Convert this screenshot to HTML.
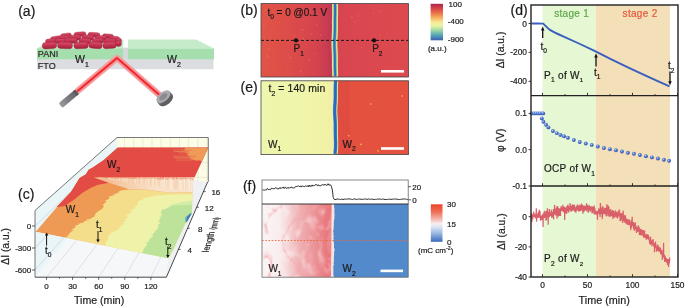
<!DOCTYPE html>
<html><head><meta charset="utf-8"><style>
html,body{margin:0;padding:0;background:#fff;}
body{width:685px;height:307px;overflow:hidden;}
svg{display:block;font-family:"Liberation Sans",sans-serif;will-change:transform;filter:blur(0.3px);}
</style></head><body>
<svg width="685" height="307" viewBox="0 0 685 307">
<defs>
<linearGradient id="cbB" x1="0" y1="0" x2="0" y2="1">
<stop offset="0" stop-color="#aa254c"/><stop offset="0.1" stop-color="#d03c48"/>
<stop offset="0.25" stop-color="#ec7048"/><stop offset="0.38" stop-color="#f6b062"/>
<stop offset="0.5" stop-color="#f8e894"/><stop offset="0.6" stop-color="#e8f4a4"/>
<stop offset="0.72" stop-color="#a6d9a4"/><stop offset="0.85" stop-color="#56aab4"/>
<stop offset="1" stop-color="#3b5eb0"/></linearGradient>
<linearGradient id="cbF" x1="0" y1="0" x2="0" y2="1">
<stop offset="0" stop-color="#ea4428"/><stop offset="0.2" stop-color="#ee6e55"/>
<stop offset="0.4" stop-color="#f3b8b0"/><stop offset="0.52" stop-color="#f8f0f0"/>
<stop offset="0.62" stop-color="#d6e2f2"/><stop offset="0.8" stop-color="#8fb0de"/>
<stop offset="1" stop-color="#3a68ba"/></linearGradient>
<linearGradient id="fW1" x1="0" y1="0" x2="1" y2="0">
<stop offset="0" stop-color="#fbf5f6"/><stop offset="0.25" stop-color="#f9eced"/>
<stop offset="0.36" stop-color="#f5d6d8"/><stop offset="0.5" stop-color="#f0b3b6"/>
<stop offset="0.7" stop-color="#ec999d"/><stop offset="0.9" stop-color="#e8797e"/><stop offset="0.97" stop-color="#e9777c"/><stop offset="1" stop-color="#f0b0b2"/></linearGradient>
<radialGradient id="ball" cx="0.38" cy="0.35" r="0.7">
<stop offset="0" stop-color="#cfe0ff"/><stop offset="0.35" stop-color="#5b82d6"/><stop offset="1" stop-color="#2a4aa6"/></radialGradient>
<linearGradient id="rod" x1="0" y1="0" x2="0" y2="1">
<stop offset="0" stop-color="#d9506c"/><stop offset="0.5" stop-color="#c3324f"/><stop offset="1" stop-color="#9e2240"/></linearGradient>
<filter id="glow" x="-20%" y="-20%" width="140%" height="140%"><feGaussianBlur stdDeviation="1.6"/></filter>
<filter id="glow2" x="-20%" y="-20%" width="140%" height="140%"><feGaussianBlur stdDeviation="0.7"/></filter>
<linearGradient id="laser" x1="0" y1="0" x2="1" y2="0">
<stop offset="0" stop-color="#9a9a9f"/><stop offset="0.45" stop-color="#7d7d82"/><stop offset="1" stop-color="#606065"/></linearGradient>
</defs>
<text x="18.2" y="16.2" font-size="14" fill="#1a1a1a" stroke="#1a1a1a" stroke-width="0.2" text-anchor="start" >(a)</text>
<polygon points="37.0,59.1 213.5,59.1 213.5,69.2 37.0,69.2" fill="#dcdde1" />
<polygon points="123.0,47.6 128.0,47.6 128.0,59.0 123.0,59.0" fill="#d6d7db" />
<polygon points="55.0,39.5 123.5,39.5 123.0,48.3 37.0,48.3" fill="#c2eac6" />
<polygon points="37.0,48.3 123.0,48.3 123.0,59.2 37.0,59.2" fill="#a4dfad" />
<polygon points="128.0,39.4 196.0,39.4 214.0,48.6 128.0,48.6" fill="#c6ebca" />
<polygon points="128.0,48.6 214.0,48.6 214.0,59.2 128.0,59.2" fill="#a5dfae" />
<rect x="74.0" y="32.0" width="12.0" height="4.6" rx="2.3" fill="url(#rod)" stroke="#9c1f3c" stroke-width="0.35" transform="rotate(-4 80 34.3)"/>
<rect x="88.0" y="32.5" width="12.0" height="4.6" rx="2.3" fill="url(#rod)" stroke="#9c1f3c" stroke-width="0.35" transform="rotate(3 94 34.8)"/>
<rect x="60.5" y="33.3" width="11.0" height="4.6" rx="2.3" fill="url(#rod)" stroke="#9c1f3c" stroke-width="0.35" transform="rotate(-6 66 35.6)"/>
<rect x="102.5" y="34.0" width="11.0" height="4.4" rx="2.2" fill="url(#rod)" stroke="#9c1f3c" stroke-width="0.35" transform="rotate(4 108 36.2)"/>
<rect x="50.5" y="36.2" width="11.0" height="4.8" rx="2.4" fill="url(#rod)" stroke="#9c1f3c" stroke-width="0.35" transform="rotate(-8 56 38.6)"/>
<rect x="59.0" y="35.7" width="12.0" height="5.0" rx="2.5" fill="url(#rod)" stroke="#9c1f3c" stroke-width="0.35" transform="rotate(2 65 38.2)"/>
<rect x="69.0" y="35.1" width="12.0" height="5.0" rx="2.5" fill="url(#rod)" stroke="#9c1f3c" stroke-width="0.35" transform="rotate(-3 75 37.6)"/>
<rect x="82.0" y="35.1" width="12.0" height="5.0" rx="2.5" fill="url(#rod)" stroke="#9c1f3c" stroke-width="0.35" transform="rotate(4 88 37.6)"/>
<rect x="95.0" y="35.7" width="12.0" height="5.0" rx="2.5" fill="url(#rod)" stroke="#9c1f3c" stroke-width="0.35" transform="rotate(-2 101 38.2)"/>
<rect x="108.5" y="36.3" width="11.0" height="5.0" rx="2.5" fill="url(#rod)" stroke="#9c1f3c" stroke-width="0.35" transform="rotate(5 114 38.8)"/>
<rect x="45.5" y="38.8" width="11.0" height="5.2" rx="2.6" fill="url(#rod)" stroke="#9c1f3c" stroke-width="0.35" transform="rotate(-5 51 41.4)"/>
<rect x="55.0" y="38.6" width="12.0" height="5.2" rx="2.6" fill="url(#rod)" stroke="#9c1f3c" stroke-width="0.35" transform="rotate(3 61 41.2)"/>
<rect x="64.5" y="38.2" width="13.0" height="5.2" rx="2.6" fill="url(#rod)" stroke="#9c1f3c" stroke-width="0.35" transform="rotate(-2 71 40.8)"/>
<rect x="79.0" y="38.4" width="12.0" height="5.2" rx="2.6" fill="url(#rod)" stroke="#9c1f3c" stroke-width="0.35" transform="rotate(5 85 41)"/>
<rect x="92.0" y="38.4" width="12.0" height="5.2" rx="2.6" fill="url(#rod)" stroke="#9c1f3c" stroke-width="0.35" transform="rotate(-4 98 41)"/>
<rect x="104.0" y="39.0" width="12.0" height="5.2" rx="2.6" fill="url(#rod)" stroke="#9c1f3c" stroke-width="0.35" transform="rotate(2 110 41.6)"/>
<rect x="115.5" y="38.0" width="6.0" height="5.0" rx="2.5" fill="url(#rod)" stroke="#9c1f3c" stroke-width="0.35" transform="rotate(0 118.5 40.5)"/>
<rect x="42.2" y="42.3" width="14.5" height="6.4" rx="3.2" fill="url(#rod)" stroke="#9c1f3c" stroke-width="0.35" transform="rotate(-3 49.5 45.5)"/>
<rect x="57.5" y="42.2" width="15.0" height="6.4" rx="3.2" fill="url(#rod)" stroke="#9c1f3c" stroke-width="0.35" transform="rotate(2 65 45.4)"/>
<rect x="73.8" y="42.2" width="14.5" height="6.4" rx="3.2" fill="url(#rod)" stroke="#9c1f3c" stroke-width="0.35" transform="rotate(-2 81 45.4)"/>
<rect x="88.8" y="42.0" width="13.5" height="6.4" rx="3.2" fill="url(#rod)" stroke="#9c1f3c" stroke-width="0.35" transform="rotate(4 95.5 45.2)"/>
<rect x="102.8" y="42.1" width="13.5" height="6.4" rx="3.2" fill="url(#rod)" stroke="#9c1f3c" stroke-width="0.35" transform="rotate(-3 109.5 45.3)"/>
<rect x="115.5" y="40.5" width="6.0" height="6.0" rx="3.0" fill="url(#rod)" stroke="#9c1f3c" stroke-width="0.35" transform="rotate(0 118.5 43.5)"/>
<text x="37.8" y="56.8" font-size="9" fill="#2a2a2a" stroke="#2a2a2a" stroke-width="0.2" text-anchor="start" >PANI</text>
<text x="37.8" y="68.6" font-size="9" fill="#2a2a2a" stroke="#2a2a2a" stroke-width="0.2" text-anchor="start" >FTO</text>
<text x="75" y="62.7" font-size="10.5" fill="#1a1a1a" stroke="#1a1a1a" stroke-width="0.2" text-anchor="start">W<tspan font-size="6.93" dy="3.99">1</tspan><tspan dy="-3.99"></tspan></text>
<text x="167" y="62.9" font-size="10.5" fill="#1a1a1a" stroke="#1a1a1a" stroke-width="0.2" text-anchor="start">W<tspan font-size="6.93" dy="3.99">2</tspan><tspan dy="-3.99"></tspan></text>
<g filter="url(#glow2)">
<polyline points="77.0,91.5 117.0,58.0 160.0,95.5" fill="none" stroke="#f4a0a4" stroke-width="6.4" stroke-linejoin="round"/>
</g>
<polyline points="77.0,91.5 117.0,58.0 160.0,95.5" fill="none" stroke="#f0676c" stroke-width="3.2" stroke-linejoin="round" opacity="0.75"/>
<polyline points="77.0,91.5 117.0,58.0 160.0,95.5" fill="none" stroke="#f41a1a" stroke-width="1.5" stroke-linejoin="round"/>
<g transform="translate(69,98.5) rotate(-40)">
<rect x="-11" y="-3" width="21" height="6" rx="1.5" fill="url(#laser)"/>
<rect x="8" y="-3" width="2.5" height="6" fill="#555"/>
</g>
<g transform="translate(164,97.5) rotate(-40)">
<ellipse cx="0" cy="3.2" rx="8.3" ry="4.6" fill="#5e5e63"/>
<rect x="-8.3" y="-1" width="16.6" height="4.2" fill="#6e6e73"/>
<ellipse cx="0" cy="-1" rx="8.3" ry="4.6" fill="#a9a9ae"/>
<ellipse cx="0" cy="-1" rx="4.6" ry="2.5" fill="#8a8a90"/>
</g>
<text x="240.5" y="15.0" font-size="14" fill="#1a1a1a" stroke="#1a1a1a" stroke-width="0.2" text-anchor="start" >(b)</text>
<linearGradient id="bL" x1="261" y1="0" x2="334" y2="0" gradientUnits="userSpaceOnUse">
<stop offset="0" stop-color="#e15446"/><stop offset="0.45" stop-color="#dc4b4a"/><stop offset="0.75" stop-color="#d5444e"/>
<stop offset="0.9" stop-color="#c93c52"/><stop offset="1" stop-color="#b93454"/></linearGradient>
<linearGradient id="bR" x1="336" y1="0" x2="409" y2="0" gradientUnits="userSpaceOnUse">
<stop offset="0" stop-color="#d6424f"/><stop offset="0.15" stop-color="#da4650"/><stop offset="1" stop-color="#dc4a4e"/></linearGradient>
<rect x="261" y="3.6" width="74" height="73.4" fill="url(#bL)"/>
<rect x="335" y="3.6" width="73.5" height="73.4" fill="url(#bR)"/>
<circle cx="358.3" cy="15.8" r="0.4" fill="#ee8a5a" opacity="0.6"/>
<circle cx="316.6" cy="24.9" r="0.7" fill="#ee8a5a" opacity="0.6"/>
<circle cx="361.8" cy="47.5" r="0.6" fill="#ee8a5a" opacity="0.6"/>
<circle cx="357.6" cy="16.0" r="0.6" fill="#ee8a5a" opacity="0.6"/>
<circle cx="286.2" cy="68.5" r="0.4" fill="#ee8a5a" opacity="0.6"/>
<circle cx="380.1" cy="11.1" r="0.7" fill="#ee8a5a" opacity="0.6"/>
<circle cx="311.2" cy="33.9" r="0.7" fill="#ee8a5a" opacity="0.6"/>
<circle cx="265.7" cy="10.2" r="0.8" fill="#ee8a5a" opacity="0.6"/>
<circle cx="404.2" cy="71.3" r="0.4" fill="#ee8a5a" opacity="0.6"/>
<circle cx="323.5" cy="15.3" r="0.5" fill="#ee8a5a" opacity="0.6"/>
<circle cx="351.9" cy="17.3" r="0.7" fill="#ee8a5a" opacity="0.6"/>
<circle cx="270.3" cy="17.8" r="0.7" fill="#ee8a5a" opacity="0.6"/>
<circle cx="320.3" cy="34.9" r="0.6" fill="#ee8a5a" opacity="0.6"/>
<circle cx="267.4" cy="56.1" r="0.8" fill="#ee8a5a" opacity="0.6"/>
<circle cx="402.6" cy="51.8" r="0.5" fill="#ee8a5a" opacity="0.6"/>
<circle cx="314.9" cy="53.6" r="0.7" fill="#ee8a5a" opacity="0.6"/>
<circle cx="279.3" cy="22.2" r="0.5" fill="#ee8a5a" opacity="0.6"/>
<circle cx="380.6" cy="35.7" r="0.6" fill="#ee8a5a" opacity="0.6"/>
<circle cx="294.8" cy="35.5" r="0.6" fill="#ee8a5a" opacity="0.6"/>
<circle cx="373.4" cy="13.1" r="0.6" fill="#ee8a5a" opacity="0.6"/>
<circle cx="288.5" cy="54.0" r="0.4" fill="#ee8a5a" opacity="0.6"/>
<circle cx="302.5" cy="29.7" r="0.7" fill="#ee8a5a" opacity="0.6"/>
<circle cx="270.4" cy="37.7" r="0.5" fill="#ee8a5a" opacity="0.6"/>
<circle cx="303.3" cy="38.9" r="0.8" fill="#ee8a5a" opacity="0.6"/>
<circle cx="287.0" cy="69.8" r="0.5" fill="#ee8a5a" opacity="0.6"/>
<circle cx="290.1" cy="57.6" r="0.8" fill="#ee8a5a" opacity="0.6"/>
<circle cx="264.0" cy="24.5" r="0.7" fill="#ee8a5a" opacity="0.6"/>
<circle cx="311.9" cy="22.7" r="0.4" fill="#ee8a5a" opacity="0.6"/>
<circle cx="268.7" cy="48.7" r="0.8" fill="#ee8a5a" opacity="0.6"/>
<circle cx="405.8" cy="40.7" r="0.4" fill="#ee8a5a" opacity="0.6"/>
<circle cx="309.1" cy="60.3" r="0.7" fill="#ee8a5a" opacity="0.6"/>
<circle cx="354.4" cy="21.8" r="0.6" fill="#ee8a5a" opacity="0.6"/>
<circle cx="300.6" cy="71.3" r="0.8" fill="#ee8a5a" opacity="0.6"/>
<polygon points="331.9,3.6 332.0,4.6 332.0,5.6 332.1,6.6 332.1,7.6 332.1,8.6 332.1,9.6 332.1,10.6 332.1,11.6 332.1,12.6 332.1,13.6 332.1,14.6 332.0,15.6 332.0,16.6 332.0,17.6 332.0,18.6 332.0,19.6 331.9,20.6 331.9,21.6 331.9,22.6 331.9,23.6 331.9,24.6 332.0,25.6 332.0,26.6 331.9,27.6 331.9,28.6 331.9,29.6 331.9,30.6 331.9,31.6 331.8,32.6 331.8,33.6 331.7,34.6 331.7,35.6 331.6,36.6 331.6,37.6 331.5,38.6 331.5,39.6 331.4,40.6 331.4,41.6 331.4,42.6 331.4,43.6 331.4,44.6 331.4,45.6 331.4,46.6 331.5,47.6 331.5,48.6 331.6,49.6 331.6,50.6 331.7,51.6 331.7,52.6 331.8,53.6 331.8,54.6 331.8,55.6 331.8,56.6 331.9,57.6 331.9,58.6 331.9,59.6 331.9,60.6 331.9,61.6 331.9,62.6 331.9,63.6 331.9,64.6 331.9,65.6 331.9,66.6 331.9,67.6 332.0,68.6 332.0,69.6 332.1,70.6 332.1,71.6 332.1,72.6 332.2,73.6 332.2,74.6 332.2,75.6 332.2,76.6 338.2,76.6 338.2,75.6 338.2,74.6 338.2,73.6 338.1,72.6 338.1,71.6 338.1,70.6 338.0,69.6 338.0,68.6 337.9,67.6 337.9,66.6 337.9,65.6 337.9,64.6 337.9,63.6 337.9,62.6 337.9,61.6 337.9,60.6 337.9,59.6 337.9,58.6 337.9,57.6 337.8,56.6 337.8,55.6 337.8,54.6 337.8,53.6 337.7,52.6 337.7,51.6 337.6,50.6 337.6,49.6 337.5,48.6 337.5,47.6 337.4,46.6 337.4,45.6 337.4,44.6 337.4,43.6 337.4,42.6 337.4,41.6 337.4,40.6 337.5,39.6 337.5,38.6 337.6,37.6 337.6,36.6 337.7,35.6 337.7,34.6 337.8,33.6 337.8,32.6 337.9,31.6 337.9,30.6 337.9,29.6 337.9,28.6 337.9,27.6 338.0,26.6 338.0,25.6 337.9,24.6 337.9,23.6 337.9,22.6 337.9,21.6 337.9,20.6 338.0,19.6 338.0,18.6 338.0,17.6 338.0,16.6 338.0,15.6 338.1,14.6 338.1,13.6 338.1,12.6 338.1,11.6 338.1,10.6 338.1,9.6 338.1,8.6 338.1,7.6 338.1,6.6 338.0,5.6 338.0,4.6 337.9,3.6" fill="#f3c870" />
<polygon points="332.3,3.6 332.4,4.6 332.4,5.6 332.5,6.6 332.5,7.6 332.5,8.6 332.5,9.6 332.5,10.6 332.5,11.6 332.5,12.6 332.5,13.6 332.5,14.6 332.4,15.6 332.4,16.6 332.4,17.6 332.4,18.6 332.4,19.6 332.3,20.6 332.3,21.6 332.3,22.6 332.3,23.6 332.3,24.6 332.4,25.6 332.4,26.6 332.3,27.6 332.3,28.6 332.3,29.6 332.3,30.6 332.3,31.6 332.2,32.6 332.2,33.6 332.1,34.6 332.1,35.6 332.0,36.6 332.0,37.6 331.9,38.6 331.9,39.6 331.8,40.6 331.8,41.6 331.8,42.6 331.8,43.6 331.8,44.6 331.8,45.6 331.8,46.6 331.9,47.6 331.9,48.6 332.0,49.6 332.0,50.6 332.1,51.6 332.1,52.6 332.2,53.6 332.2,54.6 332.2,55.6 332.2,56.6 332.3,57.6 332.3,58.6 332.3,59.6 332.3,60.6 332.3,61.6 332.3,62.6 332.3,63.6 332.3,64.6 332.3,65.6 332.3,66.6 332.3,67.6 332.4,68.6 332.4,69.6 332.5,70.6 332.5,71.6 332.5,72.6 332.6,73.6 332.6,74.6 332.6,75.6 332.6,76.6 337.9,76.6 337.9,75.6 337.9,74.6 337.9,73.6 337.8,72.6 337.8,71.6 337.8,70.6 337.7,69.6 337.7,68.6 337.6,67.6 337.6,66.6 337.6,65.6 337.6,64.6 337.6,63.6 337.6,62.6 337.6,61.6 337.6,60.6 337.6,59.6 337.6,58.6 337.6,57.6 337.5,56.6 337.5,55.6 337.5,54.6 337.5,53.6 337.4,52.6 337.4,51.6 337.3,50.6 337.3,49.6 337.2,48.6 337.2,47.6 337.1,46.6 337.1,45.6 337.1,44.6 337.1,43.6 337.1,42.6 337.1,41.6 337.1,40.6 337.2,39.6 337.2,38.6 337.3,37.6 337.3,36.6 337.4,35.6 337.4,34.6 337.5,33.6 337.5,32.6 337.6,31.6 337.6,30.6 337.6,29.6 337.6,28.6 337.6,27.6 337.7,26.6 337.7,25.6 337.6,24.6 337.6,23.6 337.6,22.6 337.6,21.6 337.6,20.6 337.7,19.6 337.7,18.6 337.7,17.6 337.7,16.6 337.7,15.6 337.8,14.6 337.8,13.6 337.8,12.6 337.8,11.6 337.8,10.6 337.8,9.6 337.8,8.6 337.8,7.6 337.8,6.6 337.7,5.6 337.7,4.6 337.6,3.6" fill="#eee88e" />
<polygon points="333.0,3.6 333.1,4.6 333.1,5.6 333.2,6.6 333.2,7.6 333.2,8.6 333.2,9.6 333.2,10.6 333.2,11.6 333.2,12.6 333.2,13.6 333.2,14.6 333.1,15.6 333.1,16.6 333.1,17.6 333.1,18.6 333.1,19.6 333.0,20.6 333.0,21.6 333.0,22.6 333.0,23.6 333.0,24.6 333.1,25.6 333.1,26.6 333.0,27.6 333.0,28.6 333.0,29.6 333.0,30.6 333.0,31.6 332.9,32.6 332.9,33.6 332.8,34.6 332.8,35.6 332.7,36.6 332.7,37.6 332.6,38.6 332.6,39.6 332.5,40.6 332.5,41.6 332.5,42.6 332.5,43.6 332.5,44.6 332.5,45.6 332.5,46.6 332.6,47.6 332.6,48.6 332.7,49.6 332.7,50.6 332.8,51.6 332.8,52.6 332.9,53.6 332.9,54.6 332.9,55.6 332.9,56.6 333.0,57.6 333.0,58.6 333.0,59.6 333.0,60.6 333.0,61.6 333.0,62.6 333.0,63.6 333.0,64.6 333.0,65.6 333.0,66.6 333.0,67.6 333.1,68.6 333.1,69.6 333.2,70.6 333.2,71.6 333.2,72.6 333.3,73.6 333.3,74.6 333.3,75.6 333.3,76.6 337.2,76.6 337.2,75.6 337.2,74.6 337.2,73.6 337.1,72.6 337.1,71.6 337.1,70.6 337.0,69.6 337.0,68.6 336.9,67.6 336.9,66.6 336.9,65.6 336.9,64.6 336.9,63.6 336.9,62.6 336.9,61.6 336.9,60.6 336.9,59.6 336.9,58.6 336.9,57.6 336.8,56.6 336.8,55.6 336.8,54.6 336.8,53.6 336.7,52.6 336.7,51.6 336.6,50.6 336.6,49.6 336.5,48.6 336.5,47.6 336.4,46.6 336.4,45.6 336.4,44.6 336.4,43.6 336.4,42.6 336.4,41.6 336.4,40.6 336.5,39.6 336.5,38.6 336.6,37.6 336.6,36.6 336.7,35.6 336.7,34.6 336.8,33.6 336.8,32.6 336.9,31.6 336.9,30.6 336.9,29.6 336.9,28.6 336.9,27.6 337.0,26.6 337.0,25.6 336.9,24.6 336.9,23.6 336.9,22.6 336.9,21.6 336.9,20.6 337.0,19.6 337.0,18.6 337.0,17.6 337.0,16.6 337.0,15.6 337.1,14.6 337.1,13.6 337.1,12.6 337.1,11.6 337.1,10.6 337.1,9.6 337.1,8.6 337.1,7.6 337.1,6.6 337.0,5.6 337.0,4.6 336.9,3.6" fill="#a6dba0" />
<polygon points="333.5,3.6 333.6,4.6 333.6,5.6 333.7,6.6 333.7,7.6 333.7,8.6 333.7,9.6 333.7,10.6 333.7,11.6 333.7,12.6 333.7,13.6 333.7,14.6 333.6,15.6 333.6,16.6 333.6,17.6 333.6,18.6 333.6,19.6 333.5,20.6 333.5,21.6 333.5,22.6 333.5,23.6 333.5,24.6 333.6,25.6 333.6,26.6 333.5,27.6 333.5,28.6 333.5,29.6 333.5,30.6 333.5,31.6 333.4,32.6 333.4,33.6 333.3,34.6 333.3,35.6 333.2,36.6 333.2,37.6 333.1,38.6 333.1,39.6 333.0,40.6 333.0,41.6 333.0,42.6 333.0,43.6 333.0,44.6 333.0,45.6 333.0,46.6 333.1,47.6 333.1,48.6 333.2,49.6 333.2,50.6 333.3,51.6 333.3,52.6 333.4,53.6 333.4,54.6 333.4,55.6 333.4,56.6 333.5,57.6 333.5,58.6 333.5,59.6 333.5,60.6 333.5,61.6 333.5,62.6 333.5,63.6 333.5,64.6 333.5,65.6 333.5,66.6 333.5,67.6 333.6,68.6 333.6,69.6 333.7,70.6 333.7,71.6 333.7,72.6 333.8,73.6 333.8,74.6 333.8,75.6 333.8,76.6 336.7,76.6 336.7,75.6 336.7,74.6 336.7,73.6 336.6,72.6 336.6,71.6 336.6,70.6 336.5,69.6 336.5,68.6 336.4,67.6 336.4,66.6 336.4,65.6 336.4,64.6 336.4,63.6 336.4,62.6 336.4,61.6 336.4,60.6 336.4,59.6 336.4,58.6 336.4,57.6 336.3,56.6 336.3,55.6 336.3,54.6 336.3,53.6 336.2,52.6 336.2,51.6 336.1,50.6 336.1,49.6 336.0,48.6 336.0,47.6 335.9,46.6 335.9,45.6 335.9,44.6 335.9,43.6 335.9,42.6 335.9,41.6 335.9,40.6 336.0,39.6 336.0,38.6 336.1,37.6 336.1,36.6 336.2,35.6 336.2,34.6 336.3,33.6 336.3,32.6 336.4,31.6 336.4,30.6 336.4,29.6 336.4,28.6 336.4,27.6 336.5,26.6 336.5,25.6 336.4,24.6 336.4,23.6 336.4,22.6 336.4,21.6 336.4,20.6 336.5,19.6 336.5,18.6 336.5,17.6 336.5,16.6 336.5,15.6 336.6,14.6 336.6,13.6 336.6,12.6 336.6,11.6 336.6,10.6 336.6,9.6 336.6,8.6 336.6,7.6 336.6,6.6 336.5,5.6 336.5,4.6 336.4,3.6" fill="#50aec0" />
<polygon points="334.0,3.6 334.1,4.6 334.1,5.6 334.2,6.6 334.2,7.6 334.2,8.6 334.2,9.6 334.2,10.6 334.2,11.6 334.2,12.6 334.2,13.6 334.2,14.6 334.1,15.6 334.1,16.6 334.1,17.6 334.1,18.6 334.1,19.6 334.0,20.6 334.0,21.6 334.0,22.6 334.0,23.6 334.0,24.6 334.1,25.6 334.1,26.6 334.0,27.6 334.0,28.6 334.0,29.6 334.0,30.6 334.0,31.6 333.9,32.6 333.9,33.6 333.8,34.6 333.8,35.6 333.7,36.6 333.7,37.6 333.6,38.6 333.6,39.6 333.5,40.6 333.5,41.6 333.5,42.6 333.5,43.6 333.5,44.6 333.5,45.6 333.5,46.6 333.6,47.6 333.6,48.6 333.7,49.6 333.7,50.6 333.8,51.6 333.8,52.6 333.9,53.6 333.9,54.6 333.9,55.6 333.9,56.6 334.0,57.6 334.0,58.6 334.0,59.6 334.0,60.6 334.0,61.6 334.0,62.6 334.0,63.6 334.0,64.6 334.0,65.6 334.0,66.6 334.0,67.6 334.1,68.6 334.1,69.6 334.2,70.6 334.2,71.6 334.2,72.6 334.3,73.6 334.3,74.6 334.3,75.6 334.3,76.6 336.1,76.6 336.1,75.6 336.1,74.6 336.1,73.6 336.0,72.6 336.0,71.6 336.0,70.6 335.9,69.6 335.9,68.6 335.8,67.6 335.8,66.6 335.8,65.6 335.8,64.6 335.8,63.6 335.8,62.6 335.8,61.6 335.8,60.6 335.8,59.6 335.8,58.6 335.8,57.6 335.7,56.6 335.7,55.6 335.7,54.6 335.7,53.6 335.6,52.6 335.6,51.6 335.5,50.6 335.5,49.6 335.4,48.6 335.4,47.6 335.3,46.6 335.3,45.6 335.3,44.6 335.3,43.6 335.3,42.6 335.3,41.6 335.3,40.6 335.4,39.6 335.4,38.6 335.5,37.6 335.5,36.6 335.6,35.6 335.6,34.6 335.7,33.6 335.7,32.6 335.8,31.6 335.8,30.6 335.8,29.6 335.8,28.6 335.8,27.6 335.9,26.6 335.9,25.6 335.8,24.6 335.8,23.6 335.8,22.6 335.8,21.6 335.8,20.6 335.9,19.6 335.9,18.6 335.9,17.6 335.9,16.6 335.9,15.6 336.0,14.6 336.0,13.6 336.0,12.6 336.0,11.6 336.0,10.6 336.0,9.6 336.0,8.6 336.0,7.6 336.0,6.6 335.9,5.6 335.9,4.6 335.8,3.6" fill="#2f6dc0" />
<line x1="261" y1="40.4" x2="408.5" y2="40.4" stroke="#1a1a1a" stroke-width="1.0" stroke-dasharray="3,2"/>
<circle cx="296" cy="40.4" r="2.1" fill="#111"/>
<circle cx="374" cy="40.4" r="2.1" fill="#111"/>
<text x="293.6" y="52.2" font-size="10" fill="#1a1a1a" stroke="#1a1a1a" stroke-width="0.2" text-anchor="start">P<tspan font-size="6.60" dy="3.80">1</tspan><tspan dy="-3.80"></tspan></text>
<text x="372.2" y="52.2" font-size="10" fill="#1a1a1a" stroke="#1a1a1a" stroke-width="0.2" text-anchor="start">P<tspan font-size="6.60" dy="3.80">2</tspan><tspan dy="-3.80"></tspan></text>
<text x="267.4" y="15.6" font-size="10" fill="#1a1a1a" stroke="#1a1a1a" stroke-width="0.2" text-anchor="start">t<tspan font-size="6.60" dy="3.80">0</tspan><tspan dy="-3.80"> = 0 @0.1 V</tspan></text>
<rect x="381" y="70" width="23" height="2.6" fill="#fff"/>
<rect x="261" y="3.6" width="147.5" height="73.4" fill="none" stroke="#444" stroke-width="0.8"/>
<rect x="430.6" y="3.8" width="12.4" height="36.5" fill="url(#cbB)"/>
<text x="448.6" y="7.2" font-size="8" fill="#222" stroke="#222" stroke-width="0.2" text-anchor="start" >100</text>
<text x="447.8" y="24.4" font-size="8" fill="#222" stroke="#222" stroke-width="0.2" text-anchor="start" >-400</text>
<text x="447.8" y="42.2" font-size="8" fill="#222" stroke="#222" stroke-width="0.2" text-anchor="start" >-900</text>
<text x="437.3" y="50.6" font-size="8" fill="#222" stroke="#222" stroke-width="0.2" text-anchor="middle" >(a.u.)</text>
<text x="240.6" y="92.0" font-size="14" fill="#1a1a1a" stroke="#1a1a1a" stroke-width="0.2" text-anchor="start" >(e)</text>
<linearGradient id="eL" x1="261" y1="0" x2="334" y2="0" gradientUnits="userSpaceOnUse">
<stop offset="0" stop-color="#eef5ac"/><stop offset="0.6" stop-color="#eff5aa"/><stop offset="0.9" stop-color="#f1f2a6"/><stop offset="1" stop-color="#f3eda8"/></linearGradient>
<polygon points="261.0,80.8 335.0,80.8 335.0,154.6 261.0,154.6" fill="url(#eL)" />
<polygon points="335.0,80.8 408.5,80.8 408.5,154.6 335.0,154.6" fill="#e4513f" />
<rect x="336" y="80.8" width="14" height="73.8" fill="#df4a42" opacity="0.6"/>
<polygon points="332.7,80.8 332.7,81.8 332.6,82.8 332.6,83.8 332.5,84.8 332.5,85.8 332.5,86.8 332.4,87.8 332.4,88.8 332.4,89.8 332.4,90.8 332.4,91.8 332.4,92.8 332.4,93.8 332.4,94.8 332.4,95.8 332.4,96.8 332.4,97.8 332.3,98.8 332.3,99.8 332.3,100.8 332.2,101.8 332.2,102.8 332.1,103.8 332.0,104.8 332.0,105.8 331.9,106.8 331.9,107.8 331.8,108.8 331.8,109.8 331.8,110.8 331.8,111.8 331.8,112.8 331.9,113.8 331.9,114.8 332.0,115.8 332.0,116.8 332.1,117.8 332.2,118.8 332.2,119.8 332.3,120.8 332.3,121.8 332.4,122.8 332.4,123.8 332.4,124.8 332.4,125.8 332.4,126.8 332.4,127.8 332.4,128.8 332.4,129.8 332.4,130.8 332.4,131.8 332.4,132.8 332.5,133.8 332.5,134.8 332.5,135.8 332.5,136.8 332.6,137.8 332.6,138.8 332.6,139.8 332.7,140.8 332.7,141.8 332.7,142.8 332.7,143.8 332.7,144.8 332.7,145.8 332.7,146.8 332.6,147.8 332.6,148.8 332.5,149.8 332.4,150.8 332.3,151.8 332.3,152.8 332.2,153.8 337.7,153.8 337.8,152.8 337.8,151.8 337.9,150.8 338.0,149.8 338.1,148.8 338.1,147.8 338.2,146.8 338.2,145.8 338.2,144.8 338.2,143.8 338.2,142.8 338.2,141.8 338.2,140.8 338.1,139.8 338.1,138.8 338.1,137.8 338.0,136.8 338.0,135.8 338.0,134.8 338.0,133.8 337.9,132.8 337.9,131.8 337.9,130.8 337.9,129.8 337.9,128.8 337.9,127.8 337.9,126.8 337.9,125.8 337.9,124.8 337.9,123.8 337.9,122.8 337.8,121.8 337.8,120.8 337.7,119.8 337.7,118.8 337.6,117.8 337.5,116.8 337.5,115.8 337.4,114.8 337.4,113.8 337.3,112.8 337.3,111.8 337.3,110.8 337.3,109.8 337.3,108.8 337.4,107.8 337.4,106.8 337.5,105.8 337.5,104.8 337.6,103.8 337.7,102.8 337.7,101.8 337.8,100.8 337.8,99.8 337.8,98.8 337.9,97.8 337.9,96.8 337.9,95.8 337.9,94.8 337.9,93.8 337.9,92.8 337.9,91.8 337.9,90.8 337.9,89.8 337.9,88.8 337.9,87.8 338.0,86.8 338.0,85.8 338.0,84.8 338.1,83.8 338.1,82.8 338.2,81.8 338.2,80.8" fill="#f3efb2" />
<polygon points="333.7,80.8 333.7,81.8 333.6,82.8 333.6,83.8 333.5,84.8 333.5,85.8 333.5,86.8 333.4,87.8 333.4,88.8 333.4,89.8 333.4,90.8 333.4,91.8 333.4,92.8 333.4,93.8 333.4,94.8 333.4,95.8 333.4,96.8 333.4,97.8 333.3,98.8 333.3,99.8 333.3,100.8 333.2,101.8 333.2,102.8 333.1,103.8 333.0,104.8 333.0,105.8 332.9,106.8 332.9,107.8 332.8,108.8 332.8,109.8 332.8,110.8 332.8,111.8 332.8,112.8 332.9,113.8 332.9,114.8 333.0,115.8 333.0,116.8 333.1,117.8 333.2,118.8 333.2,119.8 333.3,120.8 333.3,121.8 333.4,122.8 333.4,123.8 333.4,124.8 333.4,125.8 333.4,126.8 333.4,127.8 333.4,128.8 333.4,129.8 333.4,130.8 333.4,131.8 333.4,132.8 333.5,133.8 333.5,134.8 333.5,135.8 333.5,136.8 333.6,137.8 333.6,138.8 333.6,139.8 333.7,140.8 333.7,141.8 333.7,142.8 333.7,143.8 333.7,144.8 333.7,145.8 333.7,146.8 333.6,147.8 333.6,148.8 333.5,149.8 333.4,150.8 333.3,151.8 333.3,152.8 333.2,153.8 337.1,153.8 337.2,152.8 337.2,151.8 337.3,150.8 337.4,149.8 337.5,148.8 337.5,147.8 337.6,146.8 337.6,145.8 337.6,144.8 337.6,143.8 337.6,142.8 337.6,141.8 337.6,140.8 337.5,139.8 337.5,138.8 337.5,137.8 337.4,136.8 337.4,135.8 337.4,134.8 337.4,133.8 337.3,132.8 337.3,131.8 337.3,130.8 337.3,129.8 337.3,128.8 337.3,127.8 337.3,126.8 337.3,125.8 337.3,124.8 337.3,123.8 337.3,122.8 337.2,121.8 337.2,120.8 337.1,119.8 337.1,118.8 337.0,117.8 336.9,116.8 336.9,115.8 336.8,114.8 336.8,113.8 336.7,112.8 336.7,111.8 336.7,110.8 336.7,109.8 336.7,108.8 336.8,107.8 336.8,106.8 336.9,105.8 336.9,104.8 337.0,103.8 337.1,102.8 337.1,101.8 337.2,100.8 337.2,99.8 337.2,98.8 337.3,97.8 337.3,96.8 337.3,95.8 337.3,94.8 337.3,93.8 337.3,92.8 337.3,91.8 337.3,90.8 337.3,89.8 337.3,88.8 337.3,87.8 337.4,86.8 337.4,85.8 337.4,84.8 337.5,83.8 337.5,82.8 337.6,81.8 337.6,80.8" fill="#a6d8a8" />
<polygon points="334.0,80.8 334.0,81.8 333.9,82.8 333.9,83.8 333.8,84.8 333.8,85.8 333.8,86.8 333.7,87.8 333.7,88.8 333.7,89.8 333.7,90.8 333.7,91.8 333.7,92.8 333.7,93.8 333.7,94.8 333.7,95.8 333.7,96.8 333.7,97.8 333.6,98.8 333.6,99.8 333.6,100.8 333.5,101.8 333.5,102.8 333.4,103.8 333.3,104.8 333.3,105.8 333.2,106.8 333.2,107.8 333.1,108.8 333.1,109.8 333.1,110.8 333.1,111.8 333.1,112.8 333.2,113.8 333.2,114.8 333.3,115.8 333.3,116.8 333.4,117.8 333.5,118.8 333.5,119.8 333.6,120.8 333.6,121.8 333.7,122.8 333.7,123.8 333.7,124.8 333.7,125.8 333.7,126.8 333.7,127.8 333.7,128.8 333.7,129.8 333.7,130.8 333.7,131.8 333.7,132.8 333.8,133.8 333.8,134.8 333.8,135.8 333.8,136.8 333.9,137.8 333.9,138.8 333.9,139.8 334.0,140.8 334.0,141.8 334.0,142.8 334.0,143.8 334.0,144.8 334.0,145.8 334.0,146.8 333.9,147.8 333.9,148.8 333.8,149.8 333.7,150.8 333.6,151.8 333.6,152.8 333.5,153.8 336.6,153.8 336.7,152.8 336.8,151.8 336.9,150.8 336.9,149.8 337.0,148.8 337.1,147.8 337.1,146.8 337.1,145.8 337.2,144.8 337.2,143.8 337.2,142.8 337.1,141.8 337.1,140.8 337.1,139.8 337.0,138.8 337.0,137.8 337.0,136.8 336.9,135.8 336.9,134.8 336.9,133.8 336.9,132.8 336.9,131.8 336.9,130.8 336.9,129.8 336.9,128.8 336.9,127.8 336.9,126.8 336.9,125.8 336.9,124.8 336.8,123.8 336.8,122.8 336.8,121.8 336.7,120.8 336.7,119.8 336.6,118.8 336.5,117.8 336.5,116.8 336.4,115.8 336.4,114.8 336.3,113.8 336.3,112.8 336.3,111.8 336.3,110.8 336.3,109.8 336.3,108.8 336.3,107.8 336.4,106.8 336.4,105.8 336.5,104.8 336.6,103.8 336.6,102.8 336.7,101.8 336.7,100.8 336.8,99.8 336.8,98.8 336.8,97.8 336.8,96.8 336.9,95.8 336.9,94.8 336.9,93.8 336.9,92.8 336.9,91.8 336.9,90.8 336.9,89.8 336.9,88.8 336.9,87.8 336.9,86.8 337.0,85.8 337.0,84.8 337.0,83.8 337.1,82.8 337.1,81.8 337.1,80.8" fill="#3d8fc4" />
<polygon points="334.3,80.8 334.3,81.8 334.3,82.8 334.2,83.8 334.2,84.8 334.2,85.8 334.1,86.8 334.1,87.8 334.1,88.8 334.1,89.8 334.1,90.8 334.1,91.8 334.1,92.8 334.1,93.8 334.1,94.8 334.1,95.8 334.0,96.8 334.0,97.8 334.0,98.8 334.0,99.8 333.9,100.8 333.9,101.8 333.8,102.8 333.8,103.8 333.7,104.8 333.6,105.8 333.6,106.8 333.5,107.8 333.5,108.8 333.5,109.8 333.5,110.8 333.5,111.8 333.5,112.8 333.5,113.8 333.6,114.8 333.6,115.8 333.7,116.8 333.7,117.8 333.8,118.8 333.9,119.8 333.9,120.8 334.0,121.8 334.0,122.8 334.0,123.8 334.1,124.8 334.1,125.8 334.1,126.8 334.1,127.8 334.1,128.8 334.1,129.8 334.1,130.8 334.1,131.8 334.1,132.8 334.1,133.8 334.1,134.8 334.1,135.8 334.2,136.8 334.2,137.8 334.2,138.8 334.3,139.8 334.3,140.8 334.3,141.8 334.4,142.8 334.4,143.8 334.4,144.8 334.3,145.8 334.3,146.8 334.3,147.8 334.2,148.8 334.1,149.8 334.1,150.8 334.0,151.8 333.9,152.8 333.8,153.8 336.3,153.8 336.4,152.8 336.4,151.8 336.5,150.8 336.6,149.8 336.7,148.8 336.7,147.8 336.8,146.8 336.8,145.8 336.8,144.8 336.8,143.8 336.8,142.8 336.8,141.8 336.8,140.8 336.7,139.8 336.7,138.8 336.7,137.8 336.6,136.8 336.6,135.8 336.6,134.8 336.6,133.8 336.5,132.8 336.5,131.8 336.5,130.8 336.5,129.8 336.5,128.8 336.5,127.8 336.5,126.8 336.5,125.8 336.5,124.8 336.5,123.8 336.5,122.8 336.4,121.8 336.4,120.8 336.3,119.8 336.3,118.8 336.2,117.8 336.1,116.8 336.1,115.8 336.0,114.8 336.0,113.8 335.9,112.8 335.9,111.8 335.9,110.8 335.9,109.8 335.9,108.8 336.0,107.8 336.0,106.8 336.1,105.8 336.1,104.8 336.2,103.8 336.3,102.8 336.3,101.8 336.4,100.8 336.4,99.8 336.4,98.8 336.5,97.8 336.5,96.8 336.5,95.8 336.5,94.8 336.5,93.8 336.5,92.8 336.5,91.8 336.5,90.8 336.5,89.8 336.5,88.8 336.5,87.8 336.6,86.8 336.6,85.8 336.6,84.8 336.7,83.8 336.7,82.8 336.8,81.8 336.8,80.8" fill="#2a68c0" />
<text x="268.4" y="92.2" font-size="10.4" fill="#1a1a1a" stroke="#1a1a1a" stroke-width="0.2" text-anchor="start" letter-spacing="0.12">t<tspan font-size="6.86" dy="3.95">2</tspan><tspan dy="-3.95"> = 140 min</tspan></text>
<text x="268" y="147.5" font-size="10" fill="#1a1a1a" stroke="#1a1a1a" stroke-width="0.2" text-anchor="start">W<tspan font-size="6.60" dy="3.80">1</tspan><tspan dy="-3.80"></tspan></text>
<text x="342.5" y="147.5" font-size="10" fill="#1a1a1a" stroke="#1a1a1a" stroke-width="0.2" text-anchor="start">W<tspan font-size="6.60" dy="3.80">2</tspan><tspan dy="-3.80"></tspan></text>
<rect x="381" y="147.2" width="23" height="2.6" fill="#fff"/>
<circle cx="378.1" cy="150.9" r="0.8" fill="#f7d060" opacity="0.85"/>
<circle cx="361" cy="144.4" r="0.8" fill="#f7d060" opacity="0.85"/>
<circle cx="348.6" cy="135.8" r="0.8" fill="#f7d060" opacity="0.85"/>
<circle cx="402" cy="96" r="0.8" fill="#f7d060" opacity="0.85"/>
<circle cx="371" cy="104" r="0.8" fill="#f7d060" opacity="0.85"/>
<rect x="261" y="80.8" width="147.5" height="73.8" fill="none" stroke="#444" stroke-width="0.8"/>
<text x="242.9" y="190.6" font-size="14" fill="#1a1a1a" stroke="#1a1a1a" stroke-width="0.2" text-anchor="start" >(f)</text>
<rect x="262" y="180" width="146.2" height="24" fill="#fff"/>
<polyline points="262.5,189.8 263.3,190.0 264.1,190.0 264.9,190.2 265.7,189.8 266.5,190.0 267.3,188.4 268.1,189.1 268.9,189.9 269.7,189.3 270.5,189.7 271.3,188.2 272.1,188.8 272.9,188.3 273.7,188.8 274.5,188.8 275.3,187.7 276.1,188.0 276.9,188.1 277.7,189.2 278.5,188.8 279.3,187.7 280.1,188.8 280.9,187.5 281.7,188.3 282.5,187.4 283.3,187.1 284.1,188.6 284.9,187.3 285.7,187.3 286.5,188.6 287.3,188.3 288.1,187.2 288.9,188.4 289.7,187.6 290.5,187.7 291.3,186.8 292.1,188.1 292.9,187.6 293.7,188.0 294.5,187.8 295.3,186.7 296.1,186.7 296.9,186.3 297.7,186.2 298.5,186.0 299.3,186.4 300.1,186.9 300.9,185.7 301.7,186.9 302.5,186.2 303.3,186.1 304.1,186.9 304.9,186.3 305.7,185.9 306.5,186.2 307.3,186.5 308.1,185.3 308.9,186.9 309.7,185.1 310.5,186.3 311.3,186.4 312.1,184.9 312.9,186.2 313.7,185.4 314.5,185.7 315.3,184.6 316.1,184.6 316.9,184.8 317.7,186.1 318.5,184.7 319.3,185.7 320.1,185.9 320.9,185.9 321.7,184.7 322.5,184.7 323.3,184.9 324.1,185.3 324.9,184.1 325.7,185.1 326.5,185.2 327.3,185.2 328.1,183.7 328.9,185.2 330.5,184.8 331.5,186.5 332.5,191.0 333.2,197.5 334.2,199.4 336.0,199.6 337.0,198.9 338.2,199.1 339.4,199.3 340.6,199.5 341.8,199.1 343.0,199.5 344.2,199.2 345.4,199.1 346.6,199.1 347.8,199.0 349.0,198.9 350.2,199.0 351.4,199.3 352.6,199.5 353.8,199.0 355.0,198.9 356.2,199.5 357.4,199.2 358.6,199.1 359.8,199.0 361.0,199.3 362.2,199.4 363.4,199.2 364.6,199.1 365.8,198.9 367.0,199.5 368.2,198.9 369.4,199.2 370.6,199.4 371.8,198.9 373.0,199.4 374.2,199.5 375.4,199.3 376.6,199.4 377.8,198.9 379.0,199.2 380.2,199.0 381.4,199.4 382.6,199.1 383.8,199.2 385.0,199.5 386.2,199.4 387.4,199.5 388.6,199.2 389.8,199.2 391.0,199.4 392.2,199.2 393.4,199.1 394.6,199.1 395.8,199.0 397.0,199.1 398.2,199.5 399.4,199.5 400.6,199.3 401.8,199.2 403.0,199.1 404.2,198.9 405.4,199.0 406.6,199.4 407.8,199.5" fill="none" stroke="#1a1a1a" stroke-width="0.9" />
<linearGradient id="fM" x1="262" y1="0" x2="334" y2="0" gradientUnits="userSpaceOnUse">
<stop offset="0" stop-color="#fff" stop-opacity="0.75"/><stop offset="0.3" stop-color="#fff" stop-opacity="0.8"/>
<stop offset="0.55" stop-color="#fff" stop-opacity="0.85"/><stop offset="1" stop-color="#fff" stop-opacity="1"/></linearGradient>
<filter id="mottle" x="262" y="204" width="72" height="74" filterUnits="userSpaceOnUse">
<feTurbulence type="turbulence" baseFrequency="0.045 0.035" numOctaves="3" seed="8" result="n"/>
<feColorMatrix in="n" type="matrix" values="0 0 0 0 0.91  0 0 0 0 0.38  0 0 0 0 0.41  -4.5 0 0 0 1.0" result="c"/>
<feComposite in="c" in2="SourceGraphic" operator="in"/>
</filter>
<rect x="262" y="204" width="71.5" height="73.2" fill="url(#fW1)"/>
<rect x="262" y="204" width="71.5" height="73.2" fill="url(#fM)" filter="url(#mottle)"/>
<linearGradient id="fM2" x1="262" y1="0" x2="334" y2="0" gradientUnits="userSpaceOnUse">
<stop offset="0" stop-color="#fff" stop-opacity="0"/><stop offset="0.35" stop-color="#fff" stop-opacity="0.55"/>
<stop offset="0.8" stop-color="#fff" stop-opacity="0.4"/><stop offset="1" stop-color="#fff" stop-opacity="0.1"/></linearGradient>
<filter id="blotch" x="262" y="204" width="72" height="74" filterUnits="userSpaceOnUse">
<feTurbulence type="fractalNoise" baseFrequency="0.11 0.08" numOctaves="2" seed="3" result="n"/>
<feColorMatrix in="n" type="matrix" values="0 0 0 0 0.98  0 0 0 0 0.9  0 0 0 0 0.91  3.2 0 0 0 -1.55" result="c"/>
<feComposite in="c" in2="SourceGraphic" operator="in"/>
</filter>
<rect x="262" y="204" width="71.5" height="73.2" fill="url(#fM2)" filter="url(#blotch)"/>
<polygon points="331.6,204.0 335.5,204.0 335.0,230.0 334.5,277.2 331.0,277.2 331.4,240.0" fill="#f6e4e4" />
<polygon points="333.9,204.0 334.1,205.0 334.3,206.0 334.0,207.0 334.3,208.0 334.5,209.0 334.6,210.0 334.1,211.0 334.5,212.0 334.5,213.0 334.4,214.0 334.7,215.0 334.4,216.0 334.3,217.0 334.6,218.0 334.3,219.0 334.0,220.0 333.9,221.0 334.0,222.0 333.6,223.0 333.9,224.0 333.9,225.0 333.6,226.0 333.8,227.0 333.8,228.0 333.5,229.0 333.6,230.0 333.1,231.0 333.1,232.0 333.7,233.0 333.3,234.0 333.3,235.0 333.8,236.0 333.7,237.0 333.3,238.0 333.6,239.0 333.6,240.0 333.7,241.0 333.6,242.0 334.0,243.0 334.0,244.0 334.1,245.0 334.0,246.0 334.0,247.0 334.0,248.0 334.6,249.0 334.6,250.0 334.4,251.0 334.1,252.0 334.1,253.0 334.1,254.0 334.2,255.0 333.9,256.0 334.0,257.0 333.9,258.0 333.8,259.0 334.1,260.0 333.8,261.0 333.8,262.0 333.6,263.0 333.7,264.0 333.8,265.0 333.4,266.0 333.2,267.0 333.4,268.0 333.3,269.0 333.6,270.0 333.1,271.0 333.7,272.0 333.1,273.0 333.5,274.0 333.5,275.0 333.5,276.0 334.0,277.0 333.6,277.2 408.2,277.2 408.2,204.0" fill="#528acb" />
<line x1="262" y1="240.5" x2="408.2" y2="240.5" stroke="#e46a3a" stroke-width="0.9" stroke-dasharray="1.6,1.6"/>
<text x="268.4" y="271.9" font-size="10" fill="#1a1a1a" stroke="#1a1a1a" stroke-width="0.2" text-anchor="start">W<tspan font-size="6.60" dy="3.80">1</tspan><tspan dy="-3.80"></tspan></text>
<text x="342.6" y="271.9" font-size="10" fill="#1a1a1a" stroke="#1a1a1a" stroke-width="0.2" text-anchor="start">W<tspan font-size="6.60" dy="3.80">2</tspan><tspan dy="-3.80"></tspan></text>
<rect x="380.5" y="269.6" width="22.5" height="2.6" fill="#fff"/>
<rect x="262" y="180" width="146.2" height="97.2" fill="none" stroke="#6a6a6a" stroke-width="0.8"/>
<line x1="262" y1="204" x2="408.2" y2="204" stroke="#222" stroke-width="0.9" />
<line x1="408.2" y1="186.7" x2="411" y2="186.7" stroke="#222" stroke-width="0.7" />
<line x1="408.2" y1="199.8" x2="411" y2="199.8" stroke="#222" stroke-width="0.7" />
<text x="412.3" y="189.5" font-size="8" fill="#222" stroke="#222" stroke-width="0.2" text-anchor="start" >20</text>
<text x="412.3" y="202.6" font-size="8" fill="#222" stroke="#222" stroke-width="0.2" text-anchor="start" >0</text>
<rect x="430.8" y="204.3" width="11.7" height="37.5" fill="url(#cbF)"/>
<text x="447" y="207.2" font-size="8" fill="#222" stroke="#222" stroke-width="0.2" text-anchor="start" >30</text>
<text x="447" y="226.6" font-size="8" fill="#222" stroke="#222" stroke-width="0.2" text-anchor="start" >15</text>
<text x="447" y="244.7" font-size="8" fill="#222" stroke="#222" stroke-width="0.2" text-anchor="start" >0</text>
<text x="418" y="252.8" font-size="8" fill="#222" stroke="#222" stroke-width="0.2">(mC cm<tspan font-size="5.2" dy="-3">-2</tspan><tspan dy="3">)</tspan></text>
<rect x="531" y="5" width="147" height="272" fill="#fff"/>
<rect x="542.5" y="5" width="53.3" height="272" fill="#e6f7d3"/>
<rect x="595.8" y="5" width="74.2" height="272" fill="#f3dfb8"/>
<text x="554.2" y="17.2" font-size="10" fill="#5ea84a" stroke="#5ea84a" stroke-width="0.2" text-anchor="start" letter-spacing="0.3">stage 1</text>
<text x="622.6" y="17.2" font-size="10" fill="#e5573b" stroke="#e5573b" stroke-width="0.2" text-anchor="start" letter-spacing="0.3">stage 2</text>
<path d="M531.5,23.5 L538,23.4 L543,23.6 C545.5,25.5 547,27.8 550,29.9 C553,31.8 557,33.7 562.6,36.2 L578.9,43.5 L595.1,51.2 L609.8,58.6 L630,68.3 L650,77.7 L669.5,86.4" fill="none" stroke="#3a5fbf" stroke-width="1.9" stroke-linejoin="round"/>
<circle cx="531.8" cy="113.4" r="1.95" fill="url(#ball)"/>
<circle cx="533.8" cy="113.4" r="1.95" fill="url(#ball)"/>
<circle cx="535.8" cy="113.4" r="1.95" fill="url(#ball)"/>
<circle cx="537.8" cy="113.4" r="1.95" fill="url(#ball)"/>
<circle cx="539.8" cy="113.4" r="1.95" fill="url(#ball)"/>
<circle cx="541.8" cy="113.4" r="1.95" fill="url(#ball)"/>
<circle cx="543.2" cy="113.4" r="1.95" fill="url(#ball)"/>
<circle cx="541.8" cy="118.4" r="1.95" fill="url(#ball)"/>
<circle cx="543.4" cy="121.8" r="1.95" fill="url(#ball)"/>
<circle cx="546.1" cy="124.7" r="1.95" fill="url(#ball)"/>
<circle cx="548.4" cy="127.4" r="1.95" fill="url(#ball)"/>
<circle cx="552.9" cy="131.0" r="1.95" fill="url(#ball)"/>
<circle cx="556.8" cy="133.1" r="1.95" fill="url(#ball)"/>
<circle cx="560.4" cy="134.9" r="1.95" fill="url(#ball)"/>
<circle cx="564.0" cy="136.3" r="1.95" fill="url(#ball)"/>
<circle cx="567.9" cy="137.7" r="1.95" fill="url(#ball)"/>
<circle cx="573.8" cy="139.9" r="1.95" fill="url(#ball)"/>
<circle cx="579.7" cy="142.0" r="1.95" fill="url(#ball)"/>
<circle cx="585.8" cy="143.5" r="1.95" fill="url(#ball)"/>
<circle cx="591.7" cy="144.9" r="1.95" fill="url(#ball)"/>
<circle cx="597.8" cy="146.5" r="1.95" fill="url(#ball)"/>
<circle cx="603.9" cy="148.0" r="1.95" fill="url(#ball)"/>
<circle cx="609.9" cy="149.2" r="1.95" fill="url(#ball)"/>
<circle cx="615.9" cy="150.3" r="1.95" fill="url(#ball)"/>
<circle cx="621.9" cy="151.5" r="1.95" fill="url(#ball)"/>
<circle cx="627.9" cy="152.7" r="1.95" fill="url(#ball)"/>
<circle cx="633.9" cy="153.8" r="1.95" fill="url(#ball)"/>
<circle cx="639.9" cy="155.0" r="1.95" fill="url(#ball)"/>
<circle cx="645.9" cy="156.2" r="1.95" fill="url(#ball)"/>
<circle cx="651.9" cy="157.4" r="1.95" fill="url(#ball)"/>
<circle cx="657.9" cy="158.5" r="1.95" fill="url(#ball)"/>
<circle cx="663.9" cy="159.7" r="1.95" fill="url(#ball)"/>
<circle cx="669.1" cy="160.8" r="1.95" fill="url(#ball)"/>
<polyline points="531.2,218.2 531.4,215.4 531.5,213.1 531.7,215.8 531.8,222.2 532.0,217.1 532.1,216.7 532.3,218.5 532.4,215.9 532.5,214.8 532.7,219.5 532.8,218.2 533.0,214.3 533.1,214.8 533.3,216.9 533.4,215.5 533.6,216.8 533.7,211.6 533.8,215.4 534.0,216.5 534.1,213.4 534.3,215.6 534.4,217.0 534.6,216.6 534.7,215.9 534.9,215.6 535.0,214.9 535.1,215.8 535.3,218.1 535.4,214.8 535.6,217.2 535.7,216.7 535.9,213.1 536.0,214.9 536.1,216.8 536.3,208.2 536.4,217.6 536.6,221.6 536.7,213.7 536.9,215.3 537.0,215.8 537.2,217.0 537.3,218.2 537.4,217.3 537.6,216.4 537.7,216.2 537.9,217.5 538.0,215.3 538.2,213.1 538.3,214.1 538.5,211.8 538.6,215.3 538.7,216.4 538.9,217.7 539.0,215.2 539.2,209.8 539.3,214.5 539.5,217.7 539.6,214.9 539.7,217.5 539.9,213.2 540.0,210.8 540.2,215.1 540.3,215.9 540.5,220.7 540.6,220.0 540.8,217.2 540.9,216.4 541.0,216.2 541.2,216.8 541.3,215.7 541.5,218.3 541.6,216.8 541.8,220.0 541.9,215.3 542.0,215.5 542.2,216.6 542.3,216.7 542.5,214.5 542.6,215.8 542.8,217.0 542.9,214.9 543.1,227.0 543.2,217.0 543.3,213.4 543.5,217.6 543.6,214.8 543.8,216.0 543.9,216.7 544.1,211.7 544.2,216.2 544.4,217.9 544.5,212.2 544.6,214.2 544.8,214.7 544.9,210.7 545.1,214.6 545.2,215.5 545.4,216.1 545.5,217.2 545.6,216.1 545.8,215.8 545.9,220.7 546.1,214.2 546.2,219.0 546.4,211.0 546.5,220.2 546.7,218.1 546.8,212.8 546.9,213.1 547.1,213.8 547.2,212.8 547.4,208.3 547.5,216.8 547.7,217.1 547.8,213.6 548.0,214.0 548.1,212.3 548.2,224.8 548.4,211.9 548.5,213.7 548.7,214.7 548.8,215.2 549.0,214.9 549.1,215.1 549.2,209.6 549.4,209.2 549.5,216.9 549.7,212.6 549.8,213.8 550.0,215.8 550.1,215.2 550.3,214.8 550.4,212.4 550.5,215.8 550.7,215.3 550.8,215.0 551.0,212.0 551.1,211.7 551.3,209.6 551.4,214.6 551.6,214.6 551.7,212.6 551.8,217.9 552.0,217.1 552.1,213.4 552.3,217.6 552.4,211.9 552.6,213.8 552.7,212.8 552.9,214.5 553.0,212.8 553.1,211.2 553.3,212.2 553.4,208.9 553.6,219.5 553.7,210.2 553.9,214.2 554.0,213.5 554.1,210.8 554.3,210.9 554.4,209.2 554.6,204.8 554.7,211.9 554.9,209.7 555.0,214.7 555.2,212.2 555.3,210.6 555.4,211.7 555.6,209.7 555.7,214.3 555.9,215.4 556.0,210.1 556.2,207.9 556.3,210.6 556.5,210.4 556.6,211.3 556.7,210.0 556.9,206.4 557.0,218.8 557.2,212.3 557.3,211.4 557.5,214.7 557.6,210.6 557.7,205.9 557.9,214.3 558.0,208.1 558.2,213.8 558.3,216.6 558.5,212.2 558.6,209.6 558.8,211.3 558.9,212.4 559.0,211.8 559.2,208.2 559.3,209.4 559.5,210.4 559.6,216.0 559.8,210.2 559.9,209.6 560.1,212.2 560.2,213.2 560.3,209.3 560.5,215.9 560.6,208.2 560.8,211.2 560.9,208.5 561.1,206.2 561.2,207.6 561.3,211.1 561.5,206.2 561.6,211.1 561.8,207.6 561.9,209.2 562.1,210.2 562.2,209.8 562.4,210.8 562.5,208.6 562.6,208.0 562.8,211.0 562.9,204.8 563.1,211.6 563.2,209.7 563.4,209.3 563.5,210.5 563.6,212.1 563.8,206.6 563.9,208.2 564.1,206.9 564.2,208.7 564.4,212.1 564.5,207.1 564.7,219.9 564.8,210.2 564.9,210.7 565.1,207.2 565.2,213.6 565.4,210.4 565.5,208.0 565.7,212.8 565.8,210.4 566.0,209.2 566.1,208.0 566.2,209.9 566.4,212.6 566.5,211.4 566.7,213.9 566.8,205.7 567.0,206.4 567.1,209.5 567.2,208.1 567.4,209.2 567.5,211.1 567.7,210.7 567.8,207.3 568.0,204.6 568.1,206.7 568.3,206.0 568.4,212.6 568.5,208.5 568.7,210.4 568.8,210.7 569.0,212.2 569.1,208.3 569.3,206.9 569.4,207.7 569.6,206.5 569.7,207.7 569.8,206.9 570.0,206.1 570.1,203.0 570.3,210.1 570.4,209.2 570.6,209.8 570.7,208.6 570.9,210.3 571.0,211.4 571.1,209.0 571.3,211.7 571.4,205.8 571.6,209.5 571.7,210.7 571.9,210.4 572.0,205.4 572.1,208.9 572.3,204.4 572.4,206.4 572.6,207.6 572.7,209.3 572.9,208.4 573.0,206.3 573.2,210.7 573.3,207.3 573.4,210.1 573.6,204.9 573.7,207.3 573.9,207.6 574.0,209.1 574.2,208.6 574.3,206.2 574.4,204.6 574.6,209.2 574.7,211.7 574.9,206.4 575.0,209.1 575.2,210.2 575.3,208.3 575.5,208.0 575.6,211.7 575.7,208.5 575.9,212.7 576.0,209.7 576.2,207.6 576.3,210.6 576.5,206.5 576.6,207.3 576.8,207.9 576.9,205.8 577.0,209.7 577.2,209.7 577.3,204.5 577.5,206.8 577.6,207.9 577.8,209.5 577.9,205.6 578.0,210.7 578.2,207.4 578.3,209.1 578.5,210.8 578.6,209.9 578.8,209.2 578.9,209.5 579.1,211.8 579.2,204.7 579.3,208.5 579.5,208.5 579.6,208.5 579.8,211.3 579.9,208.7 580.1,205.6 580.2,208.2 580.4,207.4 580.5,205.6 580.6,208.3 580.8,204.7 580.9,207.2 581.1,210.3 581.2,210.8 581.4,207.1 581.5,203.4 581.6,208.3 581.8,207.8 581.9,210.1 582.1,209.3 582.2,210.2 582.4,209.0 582.5,204.8 582.7,207.5 582.8,210.2 582.9,213.7 583.1,207.0 583.2,205.6 583.4,209.0 583.5,207.6 583.7,208.8 583.8,212.1 584.0,208.8 584.1,211.0 584.2,205.8 584.4,208.5 584.5,211.0 584.7,207.5 584.8,210.1 585.0,205.5 585.1,208.0 585.2,209.2 585.4,207.0 585.5,207.1 585.7,206.8 585.8,208.7 586.0,210.5 586.1,208.6 586.3,207.7 586.4,208.2 586.5,203.2 586.7,206.1 586.8,211.6 587.0,204.7 587.1,206.8 587.3,204.9 587.4,206.6 587.6,207.8 587.7,206.3 587.8,209.7 588.0,206.1 588.1,207.6 588.3,212.8 588.4,208.6 588.6,207.6 588.7,207.1 588.8,210.3 589.0,206.0 589.1,204.8 589.3,209.6 589.4,206.9 589.6,208.3 589.7,209.9 589.9,206.5 590.0,212.0 590.1,208.0 590.3,210.0 590.4,206.7 590.6,207.6 590.7,209.2 590.9,209.4 591.0,205.9 591.2,210.5 591.3,208.5 591.4,208.1 591.6,207.6 591.7,209.3 591.9,207.0 592.0,213.4 592.2,211.2 592.3,213.0 592.4,211.7 592.6,207.1 592.7,208.1 592.9,206.4 593.0,209.9 593.2,210.7 593.3,211.5 593.5,209.0 593.6,209.3 593.7,207.3 593.9,213.4 594.0,212.0 594.2,205.5 594.3,214.3 594.5,213.3 594.6,209.8 594.8,207.8 594.9,209.6 595.0,213.3 595.2,210.4 595.3,212.1 595.5,214.4 595.6,211.7 595.8,211.7 595.9,212.4 596.0,212.6 596.2,212.7 596.3,211.3 596.5,211.9 596.6,212.5 596.8,212.9 596.9,215.3 597.1,214.4 597.2,212.1 597.3,212.2 597.5,219.8 597.6,210.7 597.8,214.0 597.9,212.2 598.1,211.5 598.2,211.8 598.4,212.2 598.5,213.5 598.6,208.5 598.8,211.4 598.9,208.9 599.1,209.0 599.2,213.5 599.4,214.4 599.5,211.0 599.6,212.3 599.8,208.6 599.9,211.3 600.1,217.1 600.2,211.2 600.4,203.0 600.5,206.0 600.7,209.6 600.8,207.3 600.9,214.2 601.1,211.2 601.2,211.9 601.4,213.0 601.5,207.6 601.7,208.6 601.8,212.5 602.0,212.2 602.1,211.1 602.2,219.3 602.4,210.1 602.5,217.0 602.7,207.2 602.8,206.0 603.0,212.0 603.1,214.3 603.2,207.5 603.4,212.3 603.5,213.5 603.7,213.9 603.8,210.3 604.0,213.5 604.1,212.9 604.3,213.9 604.4,211.7 604.5,214.1 604.7,207.8 604.8,213.3 605.0,211.6 605.1,207.8 605.3,210.2 605.4,209.6 605.6,214.0 605.7,214.0 605.8,212.3 606.0,215.6 606.1,213.6 606.3,208.7 606.4,208.0 606.6,216.6 606.7,212.1 606.8,204.4 607.0,204.7 607.1,208.0 607.3,212.5 607.4,210.0 607.6,212.0 607.7,212.3 607.9,210.0 608.0,213.9 608.1,215.8 608.3,205.5 608.4,214.7 608.6,211.9 608.7,209.2 608.9,212.6 609.0,206.9 609.2,217.1 609.3,214.4 609.4,213.2 609.6,211.9 609.7,210.8 609.9,216.2 610.0,210.1 610.2,211.9 610.3,214.8 610.4,213.9 610.6,216.5 610.7,209.0 610.9,212.8 611.0,212.7 611.2,213.1 611.3,210.8 611.5,214.3 611.6,216.2 611.7,215.8 611.9,211.6 612.0,213.0 612.2,213.3 612.3,212.4 612.5,211.8 612.6,210.1 612.8,215.7 612.9,218.9 613.0,213.5 613.2,212.0 613.3,216.4 613.5,214.5 613.6,210.8 613.8,214.3 613.9,216.9 614.0,212.5 614.2,212.9 614.3,217.8 614.5,214.4 614.6,213.8 614.8,214.8 614.9,212.6 615.1,217.1 615.2,215.2 615.3,210.4 615.5,215.1 615.6,211.0 615.8,214.1 615.9,212.1 616.1,212.9 616.2,216.0 616.4,213.3 616.5,217.2 616.6,211.7 616.8,217.6 616.9,213.0 617.1,216.6 617.2,214.9 617.4,213.9 617.5,218.4 617.6,217.1 617.8,216.1 617.9,216.4 618.1,211.5 618.2,214.6 618.4,213.5 618.5,214.8 618.7,216.0 618.8,216.5 618.9,213.1 619.1,209.4 619.2,215.2 619.4,216.5 619.5,210.3 619.7,213.6 619.8,215.7 620.0,214.2 620.1,221.1 620.2,216.2 620.4,213.3 620.5,217.6 620.7,219.9 620.8,221.3 621.0,214.4 621.1,220.2 621.2,214.4 621.4,214.3 621.5,219.3 621.7,214.3 621.8,213.1 622.0,219.1 622.1,216.9 622.3,215.8 622.4,216.0 622.5,215.3 622.7,218.4 622.8,222.9 623.0,217.4 623.1,210.5 623.3,213.5 623.4,217.3 623.6,217.7 623.7,218.3 623.8,220.9 624.0,220.3 624.1,218.0 624.3,215.2 624.4,216.7 624.6,220.2 624.7,221.3 624.8,222.8 625.0,216.6 625.1,220.0 625.3,215.6 625.4,215.2 625.6,220.1 625.7,220.3 625.9,221.4 626.0,219.5 626.1,224.2 626.3,220.5 626.4,220.1 626.6,218.9 626.7,218.7 626.9,221.1 627.0,218.8 627.2,223.2 627.3,220.3 627.4,220.6 627.6,224.6 627.7,224.4 627.9,219.6 628.0,225.0 628.2,222.5 628.3,221.5 628.4,221.2 628.6,221.6 628.7,220.2 628.9,225.0 629.0,222.2 629.2,219.2 629.3,224.4 629.5,220.9 629.6,220.3 629.7,220.7 629.9,222.7 630.0,222.1 630.2,224.8 630.3,227.3 630.5,224.8 630.6,222.4 630.8,230.2 630.9,224.0 631.0,225.9 631.2,223.3 631.3,225.1 631.5,219.8 631.6,228.1 631.8,223.1 631.9,226.0 632.0,222.8 632.2,216.7 632.3,225.3 632.5,224.9 632.6,222.9 632.8,224.6 632.9,222.1 633.1,226.0 633.2,222.6 633.3,223.1 633.5,222.2 633.6,229.1 633.8,222.4 633.9,223.6 634.1,227.7 634.2,230.8 634.4,225.3 634.5,230.0 634.6,224.8 634.8,225.5 634.9,228.4 635.1,223.6 635.2,226.2 635.4,222.6 635.5,229.2 635.6,226.9 635.8,227.9 635.9,225.5 636.1,227.2 636.2,227.7 636.4,233.1 636.5,227.9 636.7,227.6 636.8,228.9 636.9,230.9 637.1,228.9 637.2,231.9 637.4,229.0 637.5,231.2 637.7,229.0 637.8,230.5 638.0,226.8 638.1,228.2 638.2,226.2 638.4,225.4 638.5,231.3 638.7,228.0 638.8,232.0 639.0,231.8 639.1,226.9 639.2,229.1 639.4,235.1 639.5,230.4 639.7,229.2 639.8,228.7 640.0,232.0 640.1,233.8 640.3,235.2 640.4,228.9 640.5,232.7 640.7,232.0 640.8,235.0 641.0,233.5 641.1,228.7 641.3,233.9 641.4,231.9 641.6,230.4 641.7,234.3 641.8,232.4 642.0,235.7 642.1,233.0 642.3,231.9 642.4,230.1 642.6,232.8 642.7,231.5 642.8,231.8 643.0,233.6 643.1,233.7 643.3,230.1 643.4,236.4 643.6,234.4 643.7,237.7 643.9,235.1 644.0,237.1 644.1,232.7 644.3,233.6 644.4,232.5 644.6,230.5 644.7,237.8 644.9,234.8 645.0,235.1 645.2,235.7 645.3,234.2 645.4,237.2 645.6,234.4 645.7,238.0 645.9,235.4 646.0,235.1 646.2,239.8 646.3,239.0 646.4,236.4 646.6,234.2 646.7,235.0 646.9,234.0 647.0,236.2 647.2,235.7 647.3,238.1 647.5,237.7 647.6,236.0 647.7,239.2 647.9,238.1 648.0,234.5 648.2,236.5 648.3,236.4 648.5,235.3 648.6,239.6 648.8,236.9 648.9,237.8 649.0,236.9 649.2,240.5 649.3,239.5 649.5,239.1 649.6,243.4 649.8,241.5 649.9,242.6 650.0,242.0 650.2,244.5 650.3,241.9 650.5,243.9 650.6,236.7 650.8,244.8 650.9,241.4 651.1,241.2 651.2,241.9 651.3,241.0 651.5,241.1 651.6,242.5 651.8,242.9 651.9,243.0 652.1,246.2 652.2,243.1 652.4,243.3 652.5,240.0 652.6,242.9 652.8,240.1 652.9,240.2 653.1,239.1 653.2,242.8 653.4,242.0 653.5,244.3 653.6,243.6 653.8,246.8 653.9,243.7 654.1,245.0 654.2,244.4 654.4,243.0 654.5,252.2 654.7,245.3 654.8,247.9 654.9,245.7 655.1,243.6 655.2,243.5 655.4,248.1 655.5,241.5 655.7,245.7 655.8,246.7 656.0,244.5 656.1,246.9 656.2,247.8 656.4,246.9 656.5,251.8 656.7,249.2 656.8,249.7 657.0,246.4 657.1,249.2 657.2,246.7 657.4,249.0 657.5,248.2 657.7,244.5 657.8,250.2 658.0,248.1 658.1,251.2 658.3,245.8 658.4,251.0 658.5,249.9 658.7,251.3 658.8,246.7 659.0,250.3 659.1,247.7 659.3,248.1 659.4,251.7 659.6,249.0 659.7,251.4 659.8,249.0 660.0,251.1 660.1,249.5 660.3,247.5 660.4,250.2 660.6,253.9 660.7,249.4 660.8,252.0 661.0,254.3 661.1,253.5 661.3,251.6 661.4,254.0 661.6,254.2 661.7,250.1 661.9,253.1 662.0,249.9 662.1,252.1 662.3,260.0 662.4,253.3 662.6,254.7 662.7,253.8 662.9,257.4 663.0,255.8 663.2,255.1 663.3,254.5 663.4,255.2 663.6,242.8 663.7,257.2 663.9,255.6 664.0,255.8 664.2,255.8 664.3,258.6 664.4,254.7 664.6,255.7 664.7,261.9 664.9,257.1 665.0,259.2 665.2,257.0 665.3,256.2 665.5,261.8 665.6,257.6 665.7,261.4 665.9,258.7 666.0,260.7 666.2,261.8 666.3,258.2 666.5,260.0 666.6,261.8 666.8,262.7 666.9,261.0 667.0,262.3 667.2,262.5 667.3,258.8 667.5,264.2 667.6,264.9 667.8,263.1 667.9,262.5 668.0,261.6 668.2,261.1 668.3,259.1 668.5,264.8 668.6,267.0 668.8,262.3 668.9,261.7 669.1,263.6 669.2,262.1 669.3,260.7 669.5,262.6 669.6,257.5 669.8,260.7" fill="none" stroke="#d9606a" stroke-width="1.2" stroke-linejoin="bevel"/>
<rect x="531" y="5" width="147" height="272" fill="none" stroke="#222" stroke-width="1.4"/>
<line x1="531" y1="95.6" x2="678" y2="95.6" stroke="#222" stroke-width="1.3" />
<line x1="531" y1="186" x2="678" y2="186" stroke="#222" stroke-width="1.3" />
<line x1="542.5" y1="95.6" x2="542.5" y2="92.8" stroke="#222" stroke-width="0.9" />
<line x1="587.5" y1="95.6" x2="587.5" y2="92.8" stroke="#222" stroke-width="0.9" />
<line x1="632.5" y1="95.6" x2="632.5" y2="92.8" stroke="#222" stroke-width="0.9" />
<line x1="677.5" y1="95.6" x2="677.5" y2="92.8" stroke="#222" stroke-width="0.9" />
<line x1="565.0" y1="95.6" x2="565.0" y2="94.0" stroke="#222" stroke-width="0.8" />
<line x1="610.0" y1="95.6" x2="610.0" y2="94.0" stroke="#222" stroke-width="0.8" />
<line x1="655.0" y1="95.6" x2="655.0" y2="94.0" stroke="#222" stroke-width="0.8" />
<line x1="542.5" y1="186" x2="542.5" y2="183.2" stroke="#222" stroke-width="0.9" />
<line x1="587.5" y1="186" x2="587.5" y2="183.2" stroke="#222" stroke-width="0.9" />
<line x1="632.5" y1="186" x2="632.5" y2="183.2" stroke="#222" stroke-width="0.9" />
<line x1="677.5" y1="186" x2="677.5" y2="183.2" stroke="#222" stroke-width="0.9" />
<line x1="565.0" y1="186" x2="565.0" y2="184.4" stroke="#222" stroke-width="0.8" />
<line x1="610.0" y1="186" x2="610.0" y2="184.4" stroke="#222" stroke-width="0.8" />
<line x1="655.0" y1="186" x2="655.0" y2="184.4" stroke="#222" stroke-width="0.8" />
<line x1="542.5" y1="277" x2="542.5" y2="274.2" stroke="#222" stroke-width="0.9" />
<line x1="587.5" y1="277" x2="587.5" y2="274.2" stroke="#222" stroke-width="0.9" />
<line x1="632.5" y1="277" x2="632.5" y2="274.2" stroke="#222" stroke-width="0.9" />
<line x1="677.5" y1="277" x2="677.5" y2="274.2" stroke="#222" stroke-width="0.9" />
<line x1="565.0" y1="277" x2="565.0" y2="275.4" stroke="#222" stroke-width="0.8" />
<line x1="610.0" y1="277" x2="610.0" y2="275.4" stroke="#222" stroke-width="0.8" />
<line x1="655.0" y1="277" x2="655.0" y2="275.4" stroke="#222" stroke-width="0.8" />
<line x1="528.6" y1="23.5" x2="531" y2="23.5" stroke="#222" stroke-width="0.9" />
<text x="527" y="26.5" font-size="8.4" fill="#222" stroke="#222" stroke-width="0.2" text-anchor="end" >0</text>
<line x1="528.6" y1="52.4" x2="531" y2="52.4" stroke="#222" stroke-width="0.9" />
<text x="527" y="55.4" font-size="8.4" fill="#222" stroke="#222" stroke-width="0.2" text-anchor="end" >-200</text>
<line x1="528.6" y1="81.3" x2="531" y2="81.3" stroke="#222" stroke-width="0.9" />
<text x="527" y="84.3" font-size="8.4" fill="#222" stroke="#222" stroke-width="0.2" text-anchor="end" >-400</text>
<line x1="528.6" y1="113.4" x2="531" y2="113.4" stroke="#222" stroke-width="0.9" />
<text x="527" y="116.4" font-size="8.4" fill="#222" stroke="#222" stroke-width="0.2" text-anchor="end" >0.1</text>
<line x1="528.6" y1="149.6" x2="531" y2="149.6" stroke="#222" stroke-width="0.9" />
<text x="527" y="152.6" font-size="8.4" fill="#222" stroke="#222" stroke-width="0.2" text-anchor="end" >0.0</text>
<line x1="528.6" y1="186" x2="531" y2="186" stroke="#222" stroke-width="0.9" />
<text x="527" y="189.0" font-size="8.4" fill="#222" stroke="#222" stroke-width="0.2" text-anchor="end" >-0.1</text>
<line x1="528.6" y1="216.7" x2="531" y2="216.7" stroke="#222" stroke-width="0.9" />
<text x="527" y="219.7" font-size="8.4" fill="#222" stroke="#222" stroke-width="0.2" text-anchor="end" >0</text>
<line x1="528.6" y1="246.85" x2="531" y2="246.85" stroke="#222" stroke-width="0.9" />
<text x="527" y="249.85" font-size="8.4" fill="#222" stroke="#222" stroke-width="0.2" text-anchor="end" >-20</text>
<line x1="528.6" y1="277.0" x2="531" y2="277.0" stroke="#222" stroke-width="0.9" />
<text x="527" y="280.0" font-size="8.4" fill="#222" stroke="#222" stroke-width="0.2" text-anchor="end" >-40</text>
<text x="542.5" y="287.5" font-size="8.4" fill="#222" stroke="#222" stroke-width="0.2" text-anchor="middle" >0</text>
<text x="587.5" y="287.5" font-size="8.4" fill="#222" stroke="#222" stroke-width="0.2" text-anchor="middle" >50</text>
<text x="632.5" y="287.5" font-size="8.4" fill="#222" stroke="#222" stroke-width="0.2" text-anchor="middle" >100</text>
<text x="677.5" y="287.5" font-size="8.4" fill="#222" stroke="#222" stroke-width="0.2" text-anchor="middle" >150</text>
<text x="604.2" y="303.9" font-size="10.8" fill="#222" stroke="#222" stroke-width="0.2" text-anchor="middle" >Time (min)</text>
<text x="0" y="0" font-size="10.3" fill="#222" stroke="#222" stroke-width="0.2" text-anchor="middle" transform="translate(504.3,50) rotate(-90)">ΔI (a.u.)</text>
<text x="0" y="0" font-size="10.3" fill="#222" stroke="#222" stroke-width="0.2" text-anchor="middle" transform="translate(504.1,140.3) rotate(-90)">φ (V)</text>
<text x="0" y="0" font-size="10.3" fill="#222" stroke="#222" stroke-width="0.2" text-anchor="middle" transform="translate(504.9,231.7) rotate(-90)">ΔI (a.u.)</text>
<text x="510.6" y="14.8" font-size="14" fill="#1a1a1a" stroke="#1a1a1a" stroke-width="0.2" text-anchor="start" >(d)</text>
<line x1="542.7" y1="38" x2="542.7" y2="29.599999999999998" stroke="#111" stroke-width="1.3" />
<polygon points="541.0,30.4 544.5,30.4 542.7,26.4" fill="#111" />
<text x="540.4" y="49.6" font-size="10" fill="#1a1a1a" stroke="#1a1a1a" stroke-width="0.2" text-anchor="start">t<tspan font-size="6.60" dy="3.80">0</tspan><tspan dy="-3.80"></tspan></text>
<line x1="596" y1="66.5" x2="596" y2="56.6" stroke="#111" stroke-width="1.3" />
<polygon points="594.2,57.4 597.8,57.4 596.0,53.4" fill="#111" />
<text x="593.9" y="75.5" font-size="10" fill="#1a1a1a" stroke="#1a1a1a" stroke-width="0.2" text-anchor="start">t<tspan font-size="6.60" dy="3.80">1</tspan><tspan dy="-3.80"></tspan></text>
<line x1="670" y1="71.4" x2="670" y2="82.0" stroke="#111" stroke-width="1.3" />
<polygon points="668.2,81.2 671.8,81.2 670.0,85.2" fill="#111" />
<text x="667.9" y="68.8" font-size="10" fill="#1a1a1a" stroke="#1a1a1a" stroke-width="0.2" text-anchor="start">t<tspan font-size="6.60" dy="3.80">2</tspan><tspan dy="-3.80"></tspan></text>
<text x="544" y="78.6" font-size="10" fill="#1a1a1a" stroke="#1a1a1a" stroke-width="0.2" text-anchor="start" letter-spacing="0.3">P<tspan font-size="6.60" dy="3.80">1</tspan><tspan dy="-3.80"> of W<tspan font-size="6.2" dy="3.8">1</tspan></tspan></text>
<text x="544" y="172.3" font-size="10" fill="#1a1a1a" stroke="#1a1a1a" stroke-width="0.2" text-anchor="start" letter-spacing="0.3">OCP of W<tspan font-size="6.60" dy="3.80">1</tspan><tspan dy="-3.80"></tspan></text>
<text x="544" y="261.9" font-size="10" fill="#1a1a1a" stroke="#1a1a1a" stroke-width="0.2" text-anchor="start" letter-spacing="0.3">P<tspan font-size="6.60" dy="3.80">2</tspan><tspan dy="-3.80"> of W<tspan font-size="6.2" dy="3.8">2</tspan></tspan></text>
<text x="18.1" y="198.6" font-size="14" fill="#1a1a1a" stroke="#1a1a1a" stroke-width="0.2" text-anchor="start" >(c)</text>
<polygon points="35.0,210.5 117.0,137.5 117.0,182.0 35.0,277.2" fill="#eaf5f8" />
<polygon points="117.0,137.5 208.3,137.5 208.3,182.0 117.0,183.0" fill="#fbfde6" />
<polygon points="35.0,277.2 166.4,277.2 207.6,182.0 117.0,182.0" fill="#f5f7f9" />
<line x1="35" y1="226" x2="117" y2="147.9" stroke="#b9c3c8" stroke-width="0.5" />
<line x1="35" y1="248" x2="117" y2="162.6" stroke="#b9c3c8" stroke-width="0.5" />
<line x1="35" y1="270" x2="117" y2="177.4" stroke="#b9c3c8" stroke-width="0.5" />
<line x1="46.5" y1="277.2" x2="124.46963562753037" y2="182.5" stroke="#c9cdd2" stroke-width="0.5" />
<line x1="72.6" y1="277.2" x2="142.8097165991903" y2="182.5" stroke="#c9cdd2" stroke-width="0.5" />
<line x1="98.7" y1="277.2" x2="161.1497975708502" y2="182.5" stroke="#c9cdd2" stroke-width="0.5" />
<line x1="124.8" y1="277.2" x2="179.48987854251013" y2="182.5" stroke="#c9cdd2" stroke-width="0.5" />
<line x1="150.9" y1="277.2" x2="197.82995951417004" y2="182.5" stroke="#c9cdd2" stroke-width="0.5" />
<line x1="124.47" y1="137.5" x2="124.47" y2="182.5" stroke="#d9dcc4" stroke-width="0.5" />
<line x1="133.64" y1="137.5" x2="133.64" y2="182.5" stroke="#d9dcc4" stroke-width="0.5" />
<line x1="142.81" y1="137.5" x2="142.81" y2="182.5" stroke="#d9dcc4" stroke-width="0.5" />
<line x1="151.98" y1="137.5" x2="151.98" y2="182.5" stroke="#d9dcc4" stroke-width="0.5" />
<line x1="161.15" y1="137.5" x2="161.15" y2="182.5" stroke="#d9dcc4" stroke-width="0.5" />
<line x1="170.32" y1="137.5" x2="170.32" y2="182.5" stroke="#d9dcc4" stroke-width="0.5" />
<line x1="179.49" y1="137.5" x2="179.49" y2="182.5" stroke="#d9dcc4" stroke-width="0.5" />
<line x1="188.66" y1="137.5" x2="188.66" y2="182.5" stroke="#d9dcc4" stroke-width="0.5" />
<line x1="197.83" y1="137.5" x2="197.83" y2="182.5" stroke="#d9dcc4" stroke-width="0.5" />
<line x1="207.0" y1="137.5" x2="207.0" y2="182.5" stroke="#d9dcc4" stroke-width="0.5" />
<line x1="117" y1="147.9" x2="208.3" y2="147.9" stroke="#d6d9c0" stroke-width="0.5" />
<line x1="117" y1="162.6" x2="208.3" y2="162.6" stroke="#d6d9c0" stroke-width="0.5" />
<line x1="117" y1="177.4" x2="208.3" y2="177.4" stroke="#d6d9c0" stroke-width="0.5" />
<clipPath id="surf"><polygon points="117.8,147.4 208.4,147.6 193.5,179.6 192.5,192 192,209 191.5,214 187.5,221 185.4,223.5 179,237 172.7,250.8 168.5,258.3 98,244.2 35.5,231.8 58,205.4 71,191.7 79.5,177.9 85.8,174.3 88.5,169.8 93,167.2 103.7,160"/></clipPath>
<polygon points="193.5,179.6 207.6,182.0 166.4,277.2 168.5,258.3 172.7,250.8 179.0,237.0 185.4,223.5 187.5,221.0 191.5,214.0 192.0,209.0 192.5,192.0" fill="#eef0f4" />
<g clip-path="url(#surf)">
<polygon points="117.8,147.4 208.4,147.6 193.5,179.6 192.5,192.0 192.0,209.0 191.5,214.0 187.5,221.0 185.4,223.5 179.0,237.0 172.7,250.8 168.5,258.3 98.0,244.2 35.5,231.8 58.0,205.4 71.0,191.7 79.5,177.9 85.8,174.3 88.5,169.8 93.0,167.2 103.7,160.0" fill="#ee9a55" />
<polygon points="60.7,241.6 60.7,242.4 61.8,240.8 61.8,241.7 63.4,240.0 63.4,240.9 65.0,239.2 65.0,240.1 63.9,238.5 63.9,239.4 64.4,237.7 64.4,238.6 65.5,236.9 65.5,237.8 68.0,236.2 68.0,237.0 66.6,235.4 66.6,236.3 69.3,234.6 69.3,235.5 69.7,233.8 69.7,234.7 68.6,233.1 68.6,234.0 70.6,232.3 70.6,233.2 71.0,231.5 71.0,232.4 71.5,230.7 71.5,231.6 74.2,230.0 74.2,230.9 71.8,229.2 71.8,230.1 72.2,228.4 72.2,229.3 76.0,227.6 76.0,228.5 74.8,226.9 74.8,227.8 74.8,226.1 74.8,227.0 75.9,225.3 75.9,226.2 76.7,224.6 76.7,225.4 79.7,224.1 79.7,225.0 78.1,223.6 78.1,224.5 79.0,223.2 79.0,224.1 81.2,222.7 81.2,223.6 82.0,222.3 82.0,223.2 84.3,221.8 84.3,222.7 84.9,221.4 84.9,222.3 84.2,220.9 84.2,221.8 84.6,220.5 84.6,221.3 87.7,220.0 87.7,220.9 89.1,219.5 89.1,220.4 86.8,219.1 86.8,219.9 90.1,218.6 90.1,219.5 91.5,218.1 91.5,219.0 91.7,217.7 91.7,218.5 91.2,217.2 91.2,218.1 94.1,216.7 94.1,217.6 94.8,216.2 94.8,217.1 93.6,215.4 93.6,216.3 95.8,214.6 95.8,215.5 95.1,213.8 95.1,214.7 95.2,213.0 95.2,213.9 96.9,212.2 96.9,213.1 97.6,211.4 97.6,212.3 98.5,210.6 98.5,211.5 100.0,209.8 100.0,210.7 101.3,209.0 101.3,209.8 102.4,208.1 102.4,209.0 103.1,207.2 103.1,208.1 103.8,206.3 103.8,207.2 103.8,205.4 103.8,206.3 102.8,204.6 102.8,205.5 103.0,203.7 103.0,204.6 105.2,202.8 105.2,203.7 105.6,201.9 105.6,202.8 106.7,201.1 106.7,201.9 105.4,200.2 105.4,201.1 106.4,199.4 106.4,200.3 109.5,198.6 109.5,199.5 109.0,197.8 109.0,198.7 110.0,197.0 110.0,197.9 108.6,196.2 108.6,197.0 110.6,195.7 110.6,196.6 113.2,195.2 113.2,196.1 113.3,194.7 113.3,195.6 115.3,194.2 115.3,195.1 113.6,193.8 113.6,194.7 115.4,193.3 115.4,194.2 117.5,192.8 117.5,193.7 117.2,192.3 117.2,193.2 119.3,191.9 119.3,192.8 119.4,191.4 119.4,192.3 118.9,190.9 118.9,191.8 119.7,190.4 119.7,191.3 122.0,190.0 122.0,190.8 122.4,189.8 122.4,190.7 123.5,189.7 123.5,190.6 124.7,189.6 124.7,190.5 126.1,189.4 126.1,190.3 127.2,189.3 127.2,190.2 128.0,189.2 128.0,190.1 129.1,189.1 129.1,189.9 130.4,189.1 130.4,190.0 131.0,189.1 131.0,190.0 132.1,189.1 132.1,190.0 133.4,189.1 133.4,190.0 134.4,189.1 134.4,190.0 135.0,189.2 135.0,190.1 136.1,189.2 136.1,190.1 137.1,189.2 137.1,190.1 138.6,189.2 138.6,190.1 139.7,189.2 139.7,190.1 140.9,189.2 140.9,190.1 141.8,189.3 141.8,190.2 142.4,189.3 142.4,190.2 143.9,189.3 143.9,190.2 145.1,189.3 145.1,190.2 145.6,189.3 145.6,190.2 146.4,189.4 146.4,190.2 147.7,189.5 147.7,190.4 148.6,189.6 148.6,190.5 149.6,189.7 149.6,190.6 150.5,189.9 150.5,190.8 151.6,190.0 151.6,190.9 153.1,190.1 153.1,191.0 153.5,190.2 153.5,191.1 155.0,190.4 155.0,191.3 155.6,190.5 155.6,191.4 156.6,190.6 156.6,191.5 158.1,190.7 158.1,191.6 158.7,190.9 158.7,191.8 159.7,191.0 159.7,191.9 160.9,191.1 160.9,192.0 162.1,191.2 162.1,192.1 163.0,191.4 163.0,192.3 164.2,191.5 164.2,192.4 164.9,191.6 164.9,192.5 166.0,191.7 166.0,192.6 167.1,191.9 167.1,192.8 168.0,192.0 168.0,192.9 169.2,192.1 169.2,193.0 170.0,192.2 170.0,193.1 170.7,192.2 170.7,193.1 171.7,192.2 171.7,193.1 173.2,192.2 173.2,193.1 174.2,192.2 174.2,193.1 175.3,192.1 175.3,193.0 176.1,192.1 176.1,193.0 177.1,192.1 177.1,193.0 177.7,192.1 177.7,193.0 179.3,192.0 179.3,192.9 179.7,192.0 179.7,192.9 180.9,192.0 180.9,192.9 181.7,192.0 181.7,192.9 182.9,191.9 182.9,192.8 183.8,191.9 183.8,192.8 184.9,191.9 184.9,192.8 186.2,191.9 186.2,192.8 187.0,191.9 187.0,192.8 187.8,191.8 187.8,192.7 189.2,191.8 189.2,192.7 190.2,191.8 190.2,192.7 191.3,191.8 191.3,192.7 191.6,191.7 191.6,192.6 193.1,191.7 193.1,192.6 194.3,191.7 194.3,192.6 194.8,191.7 194.8,192.6 195.8,191.6 195.8,192.5 197.2,191.6 197.2,192.5 197.9,191.6 197.9,192.5 198.9,191.6 198.9,192.5 200.0,192.0 200.0,270.0 60.0,270.0" fill="#f5de8b" />
<polygon points="103.0,249.6 103.0,250.4 102.8,248.6 102.8,249.4 102.8,247.6 102.8,248.4 105.7,246.6 105.7,247.4 104.8,245.6 104.8,246.4 105.5,244.6 105.5,245.4 105.3,243.6 105.3,244.4 105.0,242.6 105.0,243.4 106.5,241.6 106.5,242.4 106.5,240.6 106.5,241.5 107.8,239.7 107.8,240.6 107.9,238.7 107.9,239.6 109.1,237.8 109.1,238.7 108.3,236.8 108.3,237.7 107.9,235.9 107.9,236.8 108.4,234.9 108.4,235.8 110.9,234.0 110.9,234.9 109.6,233.1 109.6,233.9 112.2,232.6 112.2,233.5 113.0,232.1 113.0,233.0 112.1,231.6 112.1,232.5 115.5,231.1 115.5,232.0 113.9,230.6 113.9,231.5 117.7,230.1 117.7,231.0 118.5,229.7 118.5,230.5 117.1,228.9 117.1,229.8 119.6,228.2 119.6,229.1 120.3,227.5 120.3,228.4 119.0,226.7 119.0,227.6 121.5,226.0 121.5,226.9 120.4,225.3 120.4,226.2 123.8,224.6 123.8,225.4 123.6,223.7 123.6,224.6 125.1,222.9 125.1,223.8 122.6,222.1 122.6,222.9 124.0,221.2 124.0,222.1 125.6,220.4 125.6,221.3 126.2,219.6 126.2,220.4 125.0,218.6 125.0,219.4 127.7,217.6 127.7,218.4 127.9,216.6 127.9,217.4 126.4,215.6 126.4,216.4 126.2,214.6 126.2,215.4 129.0,213.9 129.0,214.8 129.1,213.2 129.1,214.1 131.0,212.6 131.0,213.4 131.4,211.7 131.4,212.6 132.0,210.9 132.0,211.8 131.3,210.0 131.3,210.9 132.3,209.1 132.3,210.0 133.9,208.3 133.9,209.2 135.4,207.4 135.4,208.3 134.9,206.5 134.9,207.4 136.5,205.7 136.5,206.5 136.4,204.8 136.4,205.7 138.1,203.9 138.1,204.8 137.9,203.1 137.9,203.9 137.6,202.4 137.6,203.2 137.8,201.7 137.8,202.5 138.4,201.0 138.4,201.8 139.1,200.2 139.1,201.1 142.8,199.6 142.8,200.4 143.6,198.8 143.6,199.7 143.0,198.2 143.0,199.0 143.5,197.9 143.5,198.8 144.9,197.7 144.9,198.6 145.5,197.4 145.5,198.3 147.0,197.2 147.0,198.1 147.8,196.9 147.8,197.8 148.9,196.7 148.9,197.6 149.8,196.5 149.8,197.4 150.6,196.2 150.6,197.1 151.9,196.0 151.9,196.9 153.0,195.7 153.0,196.6 153.4,195.5 153.4,196.4 154.6,195.2 154.6,196.1 155.8,195.2 155.8,196.1 156.8,195.1 156.8,196.0 157.6,195.1 157.6,195.9 158.7,195.0 158.7,195.9 160.1,194.9 160.1,195.8 160.6,194.8 160.6,195.7 161.6,194.8 161.6,195.7 163.0,194.7 163.0,195.6 163.7,194.7 163.7,195.5 165.2,194.6 165.2,195.5 165.8,194.5 165.8,195.4 167.3,194.4 167.3,195.3 167.9,194.4 167.9,195.3 169.3,194.3 169.3,195.2 170.2,194.2 170.2,195.1 171.2,194.2 171.2,195.1 171.8,194.2 171.8,195.1 172.7,194.2 172.7,195.1 173.6,194.2 173.6,195.1 174.8,194.1 174.8,195.0 176.1,194.1 176.1,195.0 176.7,194.1 176.7,195.0 177.8,194.1 177.8,195.0 179.1,194.0 179.1,194.9 179.7,194.0 179.7,194.9 180.9,194.0 180.9,194.9 181.8,194.0 181.8,194.9 183.1,193.9 183.1,194.8 183.7,193.9 183.7,194.8 185.4,193.9 185.4,194.8 186.1,193.9 186.1,194.8 187.2,193.9 187.2,194.8 188.0,193.8 188.0,194.7 189.0,193.8 189.0,194.7 190.4,193.8 190.4,194.7 191.3,193.8 191.3,194.7 192.3,193.7 192.3,194.6 192.6,193.7 192.6,194.6 194.1,193.7 194.1,194.6 195.3,193.7 195.3,194.6 196.1,193.6 196.1,194.5 197.0,193.6 197.0,194.5 198.1,193.6 198.1,194.5 198.7,193.6 198.7,194.5 200.0,194.0 200.0,270.0 103.0,270.0" fill="#eef3a9" />
<polygon points="136.5,259.6 136.5,260.4 137.9,258.6 137.9,259.4 137.2,257.6 137.2,258.4 140.0,256.6 140.0,257.4 138.5,255.6 138.5,256.4 140.1,254.6 140.1,255.4 141.8,253.6 141.8,254.4 140.5,252.6 140.5,253.4 143.0,251.7 143.0,252.6 142.8,250.8 142.8,251.7 142.8,250.0 142.8,250.8 143.6,249.1 143.6,250.0 144.0,248.2 144.0,249.1 143.8,247.4 143.8,248.2 146.5,246.5 146.5,247.4 145.1,245.6 145.1,246.5 147.6,244.8 147.6,245.6 147.7,243.9 147.7,244.8 145.5,243.0 145.5,243.9 146.9,242.2 146.9,243.0 148.2,241.3 148.2,242.2 149.9,240.4 149.9,241.3 148.3,239.6 148.3,240.4 150.3,238.6 150.3,239.5 150.1,237.7 150.1,238.6 152.0,236.8 152.0,237.7 153.1,235.9 153.1,236.8 153.1,235.0 153.1,235.9 151.7,234.1 151.7,235.0 154.2,233.2 154.2,234.1 153.6,232.3 153.6,233.2 155.5,231.4 155.5,232.2 154.8,230.4 154.8,231.3 156.9,229.5 156.9,230.4 157.7,228.6 157.7,229.4 157.7,227.6 157.7,228.5 158.3,226.7 158.3,227.6 158.8,225.8 158.8,226.7 158.6,224.8 158.6,225.7 157.7,223.9 157.7,224.8 161.0,223.0 161.0,223.8 159.5,221.9 159.5,222.8 158.2,220.9 158.2,221.8 159.8,219.8 159.8,220.7 160.0,218.8 160.0,219.6 159.4,217.7 159.4,218.6 162.2,216.7 162.2,217.5 159.6,215.6 159.6,216.5 162.5,214.6 162.5,215.4 161.5,213.6 161.5,214.4 160.5,212.6 160.5,213.4 161.4,211.6 161.4,212.4 162.0,210.6 162.0,211.4 161.1,209.6 161.1,210.4 164.2,209.0 164.2,209.9 164.8,208.5 164.8,209.4 166.9,208.0 166.9,208.9 167.3,207.5 167.3,208.4 168.1,206.9 168.1,207.8 169.7,206.4 169.7,207.3 170.5,205.9 170.5,206.8 170.4,205.4 170.4,206.3 170.5,204.9 170.5,205.8 171.6,204.8 171.6,205.7 172.9,204.7 172.9,205.6 174.0,204.6 174.0,205.5 175.0,204.5 175.0,205.4 176.0,204.4 176.0,205.3 176.5,204.3 176.5,205.2 177.8,204.2 177.8,205.1 178.6,204.1 178.6,205.0 180.1,204.1 180.1,204.9 181.1,204.0 181.1,204.9 182.0,204.0 182.0,204.9 183.3,204.0 183.3,204.9 183.8,204.0 183.8,204.8 185.2,203.9 185.2,204.8 186.1,203.9 186.1,204.8 186.8,203.9 186.8,204.8 188.4,203.9 188.4,204.8 188.7,203.8 188.7,204.7 190.0,203.8 190.0,204.7 191.0,203.8 191.0,204.7 192.1,203.8 192.1,204.6 193.4,203.7 193.4,204.6 194.0,203.7 194.0,204.6 195.3,203.7 195.3,204.6 195.8,203.7 195.8,204.5 197.0,203.6 197.0,204.5 197.7,203.6 197.7,204.5 199.1,203.6 199.1,204.5 200.0,204.0 200.0,270.0 137.0,270.0" fill="#bde39a" />
<polygon points="168.0,206.0 180.0,202.3 200.0,199.5 200.0,204.2 180.0,205.0" fill="#d3ecaa" />
<polygon points="186.5,217.0 189.5,214.0 192.0,213.0 192.0,216.0 189.5,220.0 187.0,222.5 186.0,221.5" fill="#3f7cc4" />
<polygon points="185.0,217.5 188.0,214.5 186.5,217.0 186.0,221.5 185.0,222.8" fill="#6cc1b0" />
<polygon points="188.5,213.8 192.0,211.5 192.0,213.0 189.5,214.0" fill="#8fd4ae" />
<polygon points="117.8,140.0 210.0,140.0 210.0,177.2 94.0,177.4 104.0,181.0 109.0,182.8 97.4,185.0 91.1,187.7 82.2,193.1 73.3,200.3 64.3,206.2 57.8,206.9 50.0,207.0 50.0,140.0" fill="#e24c45" />
<polygon points="184.0,148.0 210.0,148.0 210.0,160.0 203.0,161.5 199.0,160.2 196.0,160.8 193.0,159.5 190.0,159.8 191.5,158.2 188.0,157.4 190.0,156.0 186.5,155.0 188.5,153.6 185.0,152.6 187.0,151.2 183.5,150.2 185.5,149.0" fill="#ef9a56" />
<line x1="172.7" y1="156.0" x2="195.7" y2="156.0" stroke="#ea7d55" stroke-width="0.7" />
<line x1="176.5" y1="160.1" x2="192.6" y2="160.1" stroke="#ea7d55" stroke-width="0.7" />
<line x1="173.1" y1="151.6" x2="188.9" y2="151.6" stroke="#ea7d55" stroke-width="0.7" />
<line x1="173.0" y1="157.3" x2="195.7" y2="157.3" stroke="#ea7d55" stroke-width="0.7" />
<line x1="172.7" y1="149.8" x2="186.9" y2="149.8" stroke="#ea7d55" stroke-width="0.7" />
<line x1="175.1" y1="158.2" x2="190.7" y2="158.2" stroke="#ea7d55" stroke-width="0.7" />
<line x1="178.9" y1="152.9" x2="190.0" y2="152.9" stroke="#ea7d55" stroke-width="0.7" />
<line x1="176.0" y1="151.5" x2="189.0" y2="151.5" stroke="#ea7d55" stroke-width="0.7" />
<line x1="181.5" y1="150.3" x2="192.8" y2="150.3" stroke="#ea7d55" stroke-width="0.7" />
<linearGradient id="wg" x1="94" y1="0" x2="193" y2="0" gradientUnits="userSpaceOnUse"><stop offset="0" stop-color="#f2b185"/><stop offset="0.3" stop-color="#f6cca8"/><stop offset="0.6" stop-color="#f9dfc6"/><stop offset="1" stop-color="#f9e2cb"/></linearGradient>
<polygon points="94.0,177.4 200.0,177.0 200.0,192.0 170.0,192.7 146.8,189.8 129.1,189.3 109.0,182.8" fill="url(#wg)" />
<line x1="99" y1="177.6" x2="99" y2="178.3" stroke="#fdf3ea" stroke-width="0.45" />
<line x1="100.0" y1="177.6" x2="100.0" y2="178.5" stroke="#f6cfab" stroke-width="0.45" />
<line x1="101.0" y1="177.6" x2="101.0" y2="178.6" stroke="#fcefe3" stroke-width="0.45" />
<line x1="102.0" y1="177.6" x2="102.0" y2="178.7" stroke="#fae6d2" stroke-width="0.45" />
<line x1="103.5" y1="177.6" x2="103.5" y2="178.9" stroke="#f6cfab" stroke-width="0.45" />
<line x1="104.4" y1="177.6" x2="104.4" y2="179.1" stroke="#fae6d2" stroke-width="0.45" />
<line x1="105.2" y1="177.6" x2="105.2" y2="179.2" stroke="#fdf3ea" stroke-width="0.45" />
<line x1="106.0" y1="177.6" x2="106.0" y2="179.3" stroke="#f4c7a0" stroke-width="0.45" />
<line x1="106.9" y1="177.6" x2="106.9" y2="179.4" stroke="#f6cfab" stroke-width="0.45" />
<line x1="108.1" y1="177.6" x2="108.1" y2="179.6" stroke="#f4c7a0" stroke-width="0.45" />
<line x1="109.0" y1="177.6" x2="109.0" y2="179.7" stroke="#fdf3ea" stroke-width="0.45" />
<line x1="109.9" y1="177.6" x2="109.9" y2="179.8" stroke="#fae6d2" stroke-width="0.45" />
<line x1="111.2" y1="177.6" x2="111.2" y2="180.0" stroke="#fae6d2" stroke-width="0.45" />
<line x1="112.4" y1="177.6" x2="112.4" y2="180.2" stroke="#f6cfab" stroke-width="0.45" />
<line x1="113.3" y1="177.6" x2="113.3" y2="180.3" stroke="#fcefe3" stroke-width="0.45" />
<line x1="114.7" y1="177.6" x2="114.7" y2="180.5" stroke="#fae6d2" stroke-width="0.45" />
<line x1="116.1" y1="177.6" x2="116.1" y2="180.7" stroke="#fae6d2" stroke-width="0.45" />
<line x1="117.4" y1="177.6" x2="117.4" y2="180.9" stroke="#fcefe3" stroke-width="0.45" />
<line x1="118.3" y1="177.6" x2="118.3" y2="181.0" stroke="#f6cfab" stroke-width="0.45" />
<line x1="119.6" y1="177.6" x2="119.6" y2="181.2" stroke="#fcefe3" stroke-width="0.45" />
<line x1="120.5" y1="177.6" x2="120.5" y2="181.3" stroke="#f4c7a0" stroke-width="0.45" />
<line x1="121.8" y1="177.6" x2="121.8" y2="181.5" stroke="#fae6d2" stroke-width="0.45" />
<line x1="123.3" y1="177.6" x2="123.3" y2="181.7" stroke="#fdf3ea" stroke-width="0.45" />
<line x1="124.4" y1="177.6" x2="124.4" y2="181.9" stroke="#fae6d2" stroke-width="0.45" />
<line x1="125.9" y1="177.6" x2="125.9" y2="182.1" stroke="#fdf3ea" stroke-width="0.45" />
<line x1="127.4" y1="177.6" x2="127.4" y2="182.3" stroke="#fcefe3" stroke-width="0.45" />
<line x1="128.7" y1="177.6" x2="128.7" y2="182.5" stroke="#f4c7a0" stroke-width="0.45" />
<line x1="130.1" y1="177.6" x2="130.1" y2="182.7" stroke="#fae6d2" stroke-width="0.45" />
<line x1="131.2" y1="177.6" x2="131.2" y2="182.9" stroke="#f6cfab" stroke-width="0.45" />
<line x1="132.4" y1="177.6" x2="132.4" y2="183.0" stroke="#f4c7a0" stroke-width="0.45" />
<line x1="133.8" y1="177.6" x2="133.8" y2="183.2" stroke="#f4c7a0" stroke-width="0.45" />
<line x1="134.6" y1="177.6" x2="134.6" y2="183.3" stroke="#fcefe3" stroke-width="0.45" />
<line x1="135.4" y1="177.6" x2="135.4" y2="183.5" stroke="#fcefe3" stroke-width="0.45" />
<line x1="136.7" y1="177.6" x2="136.7" y2="183.6" stroke="#f4c7a0" stroke-width="0.45" />
<line x1="137.6" y1="177.6" x2="137.6" y2="183.8" stroke="#fae6d2" stroke-width="0.45" />
<line x1="139.0" y1="177.6" x2="139.0" y2="184.0" stroke="#f4c7a0" stroke-width="0.45" />
<line x1="139.9" y1="177.6" x2="139.9" y2="184.1" stroke="#f4c7a0" stroke-width="0.45" />
<line x1="141.3" y1="177.6" x2="141.3" y2="184.3" stroke="#fcefe3" stroke-width="0.45" />
<line x1="142.2" y1="177.6" x2="142.2" y2="184.4" stroke="#fae6d2" stroke-width="0.45" />
<line x1="143.0" y1="177.6" x2="143.0" y2="184.5" stroke="#f4c7a0" stroke-width="0.45" />
<line x1="144.5" y1="177.6" x2="144.5" y2="184.7" stroke="#f4c7a0" stroke-width="0.45" />
<line x1="145.7" y1="177.6" x2="145.7" y2="184.9" stroke="#fcefe3" stroke-width="0.45" />
<line x1="147.0" y1="177.6" x2="147.0" y2="185.1" stroke="#f6cfab" stroke-width="0.45" />
<line x1="148.4" y1="177.6" x2="148.4" y2="185.3" stroke="#fcefe3" stroke-width="0.45" />
<line x1="149.7" y1="177.6" x2="149.7" y2="185.5" stroke="#f6cfab" stroke-width="0.45" />
<line x1="150.5" y1="177.6" x2="150.5" y2="185.6" stroke="#f4c7a0" stroke-width="0.45" />
<line x1="151.4" y1="177.6" x2="151.4" y2="185.7" stroke="#f4c7a0" stroke-width="0.45" />
<line x1="152.9" y1="177.6" x2="152.9" y2="185.9" stroke="#fcefe3" stroke-width="0.45" />
<line x1="154.3" y1="177.6" x2="154.3" y2="186.1" stroke="#f6cfab" stroke-width="0.45" />
<line x1="155.3" y1="177.6" x2="155.3" y2="186.3" stroke="#f6cfab" stroke-width="0.45" />
<line x1="156.6" y1="177.6" x2="156.6" y2="186.5" stroke="#fcefe3" stroke-width="0.45" />
<line x1="157.5" y1="177.6" x2="157.5" y2="186.6" stroke="#f6cfab" stroke-width="0.45" />
<line x1="158.3" y1="177.6" x2="158.3" y2="186.7" stroke="#f6cfab" stroke-width="0.45" />
<line x1="159.6" y1="177.6" x2="159.6" y2="186.9" stroke="#f4c7a0" stroke-width="0.45" />
<line x1="161.1" y1="177.6" x2="161.1" y2="187.1" stroke="#fae6d2" stroke-width="0.45" />
<line x1="162.4" y1="177.6" x2="162.4" y2="187.3" stroke="#fae6d2" stroke-width="0.45" />
<line x1="163.5" y1="177.6" x2="163.5" y2="187.4" stroke="#fae6d2" stroke-width="0.45" />
<line x1="164.5" y1="177.6" x2="164.5" y2="187.6" stroke="#fcefe3" stroke-width="0.45" />
<line x1="165.6" y1="177.6" x2="165.6" y2="187.7" stroke="#f4c7a0" stroke-width="0.45" />
<line x1="166.6" y1="177.6" x2="166.6" y2="187.9" stroke="#fdf3ea" stroke-width="0.45" />
<line x1="167.6" y1="177.6" x2="167.6" y2="188.0" stroke="#f6cfab" stroke-width="0.45" />
<line x1="168.4" y1="177.6" x2="168.4" y2="188.1" stroke="#f4c7a0" stroke-width="0.45" />
<line x1="169.3" y1="177.6" x2="169.3" y2="188.2" stroke="#fcefe3" stroke-width="0.45" />
<line x1="170.6" y1="177.6" x2="170.6" y2="188.4" stroke="#fcefe3" stroke-width="0.45" />
<line x1="171.4" y1="177.6" x2="171.4" y2="188.6" stroke="#fcefe3" stroke-width="0.45" />
<line x1="172.6" y1="177.6" x2="172.6" y2="188.7" stroke="#fcefe3" stroke-width="0.45" />
<line x1="173.9" y1="177.6" x2="173.9" y2="188.9" stroke="#f6cfab" stroke-width="0.45" />
<line x1="174.8" y1="177.6" x2="174.8" y2="189.0" stroke="#f4c7a0" stroke-width="0.45" />
<line x1="175.8" y1="177.6" x2="175.8" y2="189.2" stroke="#f4c7a0" stroke-width="0.45" />
<line x1="177.0" y1="177.6" x2="177.0" y2="189.3" stroke="#f4c7a0" stroke-width="0.45" />
<line x1="177.9" y1="177.6" x2="177.9" y2="189.5" stroke="#f4c7a0" stroke-width="0.45" />
<line x1="179.3" y1="177.6" x2="179.3" y2="189.7" stroke="#fdf3ea" stroke-width="0.45" />
<line x1="180.7" y1="177.6" x2="180.7" y2="189.9" stroke="#fcefe3" stroke-width="0.45" />
<line x1="182.1" y1="177.6" x2="182.1" y2="190.1" stroke="#fdf3ea" stroke-width="0.45" />
<line x1="183.1" y1="177.6" x2="183.1" y2="190.2" stroke="#f6cfab" stroke-width="0.45" />
<line x1="184.5" y1="177.6" x2="184.5" y2="190.4" stroke="#fdf3ea" stroke-width="0.45" />
<line x1="185.8" y1="177.6" x2="185.8" y2="190.6" stroke="#f4c7a0" stroke-width="0.45" />
<line x1="187.3" y1="177.6" x2="187.3" y2="190.8" stroke="#fae6d2" stroke-width="0.45" />
<line x1="188.4" y1="177.6" x2="188.4" y2="190.9" stroke="#fae6d2" stroke-width="0.45" />
<line x1="189.5" y1="177.6" x2="189.5" y2="191.1" stroke="#fdf3ea" stroke-width="0.45" />
<line x1="190.5" y1="177.6" x2="190.5" y2="191.2" stroke="#fae6d2" stroke-width="0.45" />
<line x1="191.9" y1="177.6" x2="191.9" y2="191.4" stroke="#fdf3ea" stroke-width="0.45" />
<line x1="104" y1="177.0" x2="104" y2="178.5" stroke="#e8684e" stroke-width="0.5" />
<line x1="104.8" y1="177.0" x2="104.8" y2="178.3" stroke="#ec8a5e" stroke-width="0.5" />
<line x1="105.9" y1="177.0" x2="105.9" y2="178.6" stroke="#e55a4a" stroke-width="0.5" />
<line x1="106.6" y1="177.0" x2="106.6" y2="178.3" stroke="#e55a4a" stroke-width="0.5" />
<line x1="107.4" y1="177.0" x2="107.4" y2="178.4" stroke="#ec8a5e" stroke-width="0.5" />
<line x1="108.6" y1="177.0" x2="108.6" y2="177.6" stroke="#e8684e" stroke-width="0.5" />
<line x1="109.8" y1="177.0" x2="109.8" y2="178.0" stroke="#ec8a5e" stroke-width="0.5" />
<line x1="111.0" y1="177.0" x2="111.0" y2="178.1" stroke="#e8684e" stroke-width="0.5" />
<line x1="111.8" y1="177.0" x2="111.8" y2="178.5" stroke="#ec8a5e" stroke-width="0.5" />
<line x1="112.6" y1="177.0" x2="112.6" y2="177.9" stroke="#e8684e" stroke-width="0.5" />
<line x1="113.4" y1="177.0" x2="113.4" y2="178.2" stroke="#e8684e" stroke-width="0.5" />
<line x1="114.4" y1="177.0" x2="114.4" y2="178.7" stroke="#ec8a5e" stroke-width="0.5" />
<line x1="115.5" y1="177.0" x2="115.5" y2="178.7" stroke="#e55a4a" stroke-width="0.5" />
<line x1="116.4" y1="177.0" x2="116.4" y2="178.6" stroke="#ec8a5e" stroke-width="0.5" />
<line x1="117.7" y1="177.0" x2="117.7" y2="178.9" stroke="#e8684e" stroke-width="0.5" />
<line x1="118.8" y1="177.0" x2="118.8" y2="178.3" stroke="#e8684e" stroke-width="0.5" />
<line x1="119.7" y1="177.0" x2="119.7" y2="178.1" stroke="#ec8a5e" stroke-width="0.5" />
<line x1="120.8" y1="177.0" x2="120.8" y2="178.2" stroke="#e8684e" stroke-width="0.5" />
<line x1="121.9" y1="177.0" x2="121.9" y2="178.6" stroke="#e8684e" stroke-width="0.5" />
<line x1="122.9" y1="177.0" x2="122.9" y2="178.2" stroke="#e55a4a" stroke-width="0.5" />
<line x1="123.9" y1="177.0" x2="123.9" y2="177.8" stroke="#e55a4a" stroke-width="0.5" />
<line x1="124.9" y1="177.0" x2="124.9" y2="178.9" stroke="#e8684e" stroke-width="0.5" />
<line x1="125.6" y1="177.0" x2="125.6" y2="177.9" stroke="#e8684e" stroke-width="0.5" />
<line x1="126.2" y1="177.0" x2="126.2" y2="177.8" stroke="#e55a4a" stroke-width="0.5" />
<line x1="127.1" y1="177.0" x2="127.1" y2="177.9" stroke="#ec8a5e" stroke-width="0.5" />
<line x1="127.8" y1="177.0" x2="127.8" y2="178.7" stroke="#e55a4a" stroke-width="0.5" />
<line x1="128.7" y1="177.0" x2="128.7" y2="178.3" stroke="#e8684e" stroke-width="0.5" />
<line x1="129.4" y1="177.0" x2="129.4" y2="178.0" stroke="#ec8a5e" stroke-width="0.5" />
<line x1="130.3" y1="177.0" x2="130.3" y2="179.1" stroke="#e8684e" stroke-width="0.5" />
<line x1="131.0" y1="177.0" x2="131.0" y2="178.6" stroke="#ec8a5e" stroke-width="0.5" />
<line x1="131.8" y1="177.0" x2="131.8" y2="179.0" stroke="#ec8a5e" stroke-width="0.5" />
<line x1="133.0" y1="177.0" x2="133.0" y2="179.2" stroke="#e55a4a" stroke-width="0.5" />
<line x1="133.8" y1="177.0" x2="133.8" y2="177.9" stroke="#e8684e" stroke-width="0.5" />
<line x1="134.5" y1="177.0" x2="134.5" y2="178.7" stroke="#e55a4a" stroke-width="0.5" />
<line x1="135.3" y1="177.0" x2="135.3" y2="179.2" stroke="#ec8a5e" stroke-width="0.5" />
<line x1="136.0" y1="177.0" x2="136.0" y2="179.0" stroke="#e8684e" stroke-width="0.5" />
<line x1="136.8" y1="177.0" x2="136.8" y2="178.4" stroke="#ec8a5e" stroke-width="0.5" />
<line x1="138.0" y1="177.0" x2="138.0" y2="178.6" stroke="#ec8a5e" stroke-width="0.5" />
<line x1="139.1" y1="177.0" x2="139.1" y2="178.5" stroke="#ec8a5e" stroke-width="0.5" />
<line x1="140.0" y1="177.0" x2="140.0" y2="178.6" stroke="#e55a4a" stroke-width="0.5" />
<line x1="141.2" y1="177.0" x2="141.2" y2="178.4" stroke="#ec8a5e" stroke-width="0.5" />
<line x1="142.2" y1="177.0" x2="142.2" y2="177.8" stroke="#e8684e" stroke-width="0.5" />
<line x1="143.4" y1="177.0" x2="143.4" y2="178.9" stroke="#ec8a5e" stroke-width="0.5" />
<line x1="144.4" y1="177.0" x2="144.4" y2="178.7" stroke="#ec8a5e" stroke-width="0.5" />
<line x1="145.4" y1="177.0" x2="145.4" y2="178.7" stroke="#e8684e" stroke-width="0.5" />
<line x1="146.1" y1="177.0" x2="146.1" y2="178.4" stroke="#e8684e" stroke-width="0.5" />
<line x1="147.2" y1="177.0" x2="147.2" y2="179.3" stroke="#ec8a5e" stroke-width="0.5" />
<line x1="148.1" y1="177.0" x2="148.1" y2="177.8" stroke="#e55a4a" stroke-width="0.5" />
<line x1="149.1" y1="177.0" x2="149.1" y2="178.8" stroke="#ec8a5e" stroke-width="0.5" />
<line x1="150.0" y1="177.0" x2="150.0" y2="178.7" stroke="#ec8a5e" stroke-width="0.5" />
<line x1="151.1" y1="177.0" x2="151.1" y2="178.9" stroke="#ec8a5e" stroke-width="0.5" />
<line x1="152.0" y1="177.0" x2="152.0" y2="178.2" stroke="#e8684e" stroke-width="0.5" />
<line x1="152.8" y1="177.0" x2="152.8" y2="178.7" stroke="#ec8a5e" stroke-width="0.5" />
<line x1="154.0" y1="177.0" x2="154.0" y2="178.0" stroke="#e8684e" stroke-width="0.5" />
<line x1="154.9" y1="177.0" x2="154.9" y2="179.0" stroke="#ec8a5e" stroke-width="0.5" />
<line x1="155.9" y1="177.0" x2="155.9" y2="179.1" stroke="#ec8a5e" stroke-width="0.5" />
<line x1="157.0" y1="177.0" x2="157.0" y2="179.1" stroke="#ec8a5e" stroke-width="0.5" />
<line x1="157.8" y1="177.0" x2="157.8" y2="179.1" stroke="#e8684e" stroke-width="0.5" />
<line x1="158.6" y1="177.0" x2="158.6" y2="179.6" stroke="#ec8a5e" stroke-width="0.5" />
<line x1="159.9" y1="177.0" x2="159.9" y2="179.8" stroke="#e55a4a" stroke-width="0.5" />
<line x1="160.7" y1="177.0" x2="160.7" y2="179.7" stroke="#e8684e" stroke-width="0.5" />
<line x1="161.7" y1="177.0" x2="161.7" y2="178.7" stroke="#e55a4a" stroke-width="0.5" />
<line x1="162.5" y1="177.0" x2="162.5" y2="178.7" stroke="#e55a4a" stroke-width="0.5" />
<line x1="163.1" y1="177.0" x2="163.1" y2="179.9" stroke="#e55a4a" stroke-width="0.5" />
<line x1="163.7" y1="177.0" x2="163.7" y2="178.3" stroke="#e55a4a" stroke-width="0.5" />
<line x1="165.0" y1="177.0" x2="165.0" y2="178.4" stroke="#e55a4a" stroke-width="0.5" />
<line x1="166.1" y1="177.0" x2="166.1" y2="179.8" stroke="#ec8a5e" stroke-width="0.5" />
<line x1="167.0" y1="177.0" x2="167.0" y2="180.0" stroke="#e8684e" stroke-width="0.5" />
<line x1="168.2" y1="177.0" x2="168.2" y2="179.1" stroke="#e8684e" stroke-width="0.5" />
<line x1="169.1" y1="177.0" x2="169.1" y2="178.1" stroke="#e8684e" stroke-width="0.5" />
<line x1="169.9" y1="177.0" x2="169.9" y2="178.6" stroke="#e55a4a" stroke-width="0.5" />
<line x1="170.7" y1="177.0" x2="170.7" y2="178.3" stroke="#ec8a5e" stroke-width="0.5" />
<line x1="171.7" y1="177.0" x2="171.7" y2="178.6" stroke="#ec8a5e" stroke-width="0.5" />
<line x1="172.6" y1="177.0" x2="172.6" y2="180.0" stroke="#e8684e" stroke-width="0.5" />
<line x1="173.6" y1="177.0" x2="173.6" y2="179.0" stroke="#e8684e" stroke-width="0.5" />
<line x1="174.5" y1="177.0" x2="174.5" y2="178.5" stroke="#e8684e" stroke-width="0.5" />
<line x1="175.6" y1="177.0" x2="175.6" y2="178.6" stroke="#ec8a5e" stroke-width="0.5" />
<line x1="176.5" y1="177.0" x2="176.5" y2="179.2" stroke="#e55a4a" stroke-width="0.5" />
<line x1="177.3" y1="177.0" x2="177.3" y2="178.6" stroke="#e55a4a" stroke-width="0.5" />
<line x1="178.0" y1="177.0" x2="178.0" y2="178.8" stroke="#ec8a5e" stroke-width="0.5" />
<line x1="179.2" y1="177.0" x2="179.2" y2="179.2" stroke="#ec8a5e" stroke-width="0.5" />
<line x1="180.2" y1="177.0" x2="180.2" y2="179.2" stroke="#e55a4a" stroke-width="0.5" />
<line x1="181.3" y1="177.0" x2="181.3" y2="180.1" stroke="#e8684e" stroke-width="0.5" />
<line x1="182.6" y1="177.0" x2="182.6" y2="179.3" stroke="#e8684e" stroke-width="0.5" />
<line x1="183.7" y1="177.0" x2="183.7" y2="178.5" stroke="#e55a4a" stroke-width="0.5" />
<line x1="184.5" y1="177.0" x2="184.5" y2="179.1" stroke="#ec8a5e" stroke-width="0.5" />
<line x1="185.5" y1="177.0" x2="185.5" y2="178.8" stroke="#e8684e" stroke-width="0.5" />
<line x1="186.4" y1="177.0" x2="186.4" y2="179.5" stroke="#ec8a5e" stroke-width="0.5" />
<line x1="187.2" y1="177.0" x2="187.2" y2="178.6" stroke="#ec8a5e" stroke-width="0.5" />
<line x1="188.3" y1="177.0" x2="188.3" y2="178.7" stroke="#e8684e" stroke-width="0.5" />
<line x1="189.6" y1="177.0" x2="189.6" y2="178.4" stroke="#e55a4a" stroke-width="0.5" />
<line x1="190.7" y1="177.0" x2="190.7" y2="180.4" stroke="#e55a4a" stroke-width="0.5" />
<line x1="191.7" y1="177.0" x2="191.7" y2="178.5" stroke="#ec8a5e" stroke-width="0.5" />
<line x1="192.9" y1="177.0" x2="192.9" y2="180.3" stroke="#e55a4a" stroke-width="0.5" />
</g>
<polyline points="35.0,277.2 35.0,210.5 117.0,137.5 208.3,137.5 208.3,182.0" fill="none" stroke="#555" stroke-width="0.8" />
<line x1="35" y1="277.2" x2="166.4" y2="277.2" stroke="#333" stroke-width="0.9" />
<line x1="166.4" y1="277.2" x2="207.6" y2="182" stroke="#333" stroke-width="0.9" />
<line x1="46.5" y1="277.2" x2="46.5" y2="279.8" stroke="#333" stroke-width="0.8" />
<line x1="59.55" y1="277.2" x2="59.55" y2="278.9" stroke="#333" stroke-width="0.7" />
<text x="46.5" y="289.2" font-size="8" fill="#222" stroke="#222" stroke-width="0.2" text-anchor="middle" >0</text>
<line x1="72.6" y1="277.2" x2="72.6" y2="279.8" stroke="#333" stroke-width="0.8" />
<line x1="85.65" y1="277.2" x2="85.65" y2="278.9" stroke="#333" stroke-width="0.7" />
<text x="72.6" y="289.2" font-size="8" fill="#222" stroke="#222" stroke-width="0.2" text-anchor="middle" >30</text>
<line x1="98.7" y1="277.2" x2="98.7" y2="279.8" stroke="#333" stroke-width="0.8" />
<line x1="111.75" y1="277.2" x2="111.75" y2="278.9" stroke="#333" stroke-width="0.7" />
<text x="98.7" y="289.2" font-size="8" fill="#222" stroke="#222" stroke-width="0.2" text-anchor="middle" >60</text>
<line x1="124.8" y1="277.2" x2="124.8" y2="279.8" stroke="#333" stroke-width="0.8" />
<line x1="137.85" y1="277.2" x2="137.85" y2="278.9" stroke="#333" stroke-width="0.7" />
<text x="124.8" y="289.2" font-size="8" fill="#222" stroke="#222" stroke-width="0.2" text-anchor="middle" >90</text>
<line x1="150.9" y1="277.2" x2="150.9" y2="279.8" stroke="#333" stroke-width="0.8" />
<text x="150.9" y="289.2" font-size="8" fill="#222" stroke="#222" stroke-width="0.2" text-anchor="middle" >120</text>
<text x="99.1" y="303.9" font-size="10.6" fill="#222" stroke="#222" stroke-width="0.2" text-anchor="middle" >Time (min)</text>
<line x1="32" y1="226" x2="35" y2="226" stroke="#333" stroke-width="0.8" />
<text x="31.2" y="228.9" font-size="8" fill="#222" stroke="#222" stroke-width="0.2" text-anchor="end" >0</text>
<line x1="32" y1="248" x2="35" y2="248" stroke="#333" stroke-width="0.8" />
<text x="31.2" y="250.9" font-size="8" fill="#222" stroke="#222" stroke-width="0.2" text-anchor="end" >-300</text>
<line x1="32" y1="270" x2="35" y2="270" stroke="#333" stroke-width="0.8" />
<text x="31.2" y="272.9" font-size="8" fill="#222" stroke="#222" stroke-width="0.2" text-anchor="end" >-600</text>
<text x="0" y="0" font-size="10.3" fill="#222" stroke="#222" stroke-width="0.2" text-anchor="middle" transform="translate(9.2,246.4) rotate(-90)">ΔI (a.u.)</text>
<line x1="178.43109243697478" y1="249.4" x2="180.63109243697477" y2="249.4" stroke="#333" stroke-width="0.8" />
<text x="187.5" y="253" font-size="8" fill="#222" stroke="#222" stroke-width="0.2" text-anchor="start" >4</text>
<line x1="187.60588235294117" y1="228.20000000000002" x2="189.80588235294115" y2="228.20000000000002" stroke="#333" stroke-width="0.8" />
<text x="197.9" y="231.8" font-size="8" fill="#222" stroke="#222" stroke-width="0.2" text-anchor="start" >8</text>
<line x1="196.69411764705882" y1="207.20000000000002" x2="198.8941176470588" y2="207.20000000000002" stroke="#333" stroke-width="0.8" />
<text x="204.8" y="210.8" font-size="8" fill="#222" stroke="#222" stroke-width="0.2" text-anchor="start" >12</text>
<line x1="203.4453781512605" y1="191.6" x2="205.6453781512605" y2="191.6" stroke="#333" stroke-width="0.8" />
<text x="211.4" y="195.2" font-size="8" fill="#222" stroke="#222" stroke-width="0.2" text-anchor="start" >16</text>
<text x="0" y="0" font-size="10" fill="#222" stroke="#222" stroke-width="0.25" transform="matrix(0.23,-0.766,0.96,0,208.6,252.3)">length</text>
<text x="0" y="0" font-size="10" fill="#222" stroke="#222" stroke-width="0.25" transform="matrix(0.174,-0.516,0.9,0,215.6,229.6)">(mm)</text>
<text x="107" y="167.8" font-size="10" fill="#1a1a1a" stroke="#1a1a1a" stroke-width="0.2" text-anchor="start">W<tspan font-size="6.60" dy="3.80">2</tspan><tspan dy="-3.80"></tspan></text>
<text x="65.7" y="212.8" font-size="10" fill="#1a1a1a" stroke="#1a1a1a" stroke-width="0.2" text-anchor="start">W<tspan font-size="6.60" dy="3.80">1</tspan><tspan dy="-3.80"></tspan></text>
<line x1="46.6" y1="245.5" x2="46.6" y2="235.0" stroke="#111" stroke-width="1.0" />
<polygon points="44.9,235.6 48.4,235.6 46.6,232.6" fill="#111" />
<text x="45" y="253.5" font-size="10" fill="#1a1a1a" stroke="#1a1a1a" stroke-width="0.2" text-anchor="start">t<tspan font-size="6.60" dy="3.80">0</tspan><tspan dy="-3.80"></tspan></text>
<line x1="98" y1="231" x2="98" y2="240.1" stroke="#111" stroke-width="1.0" />
<polygon points="96.2,239.5 99.8,239.5 98.0,242.5" fill="#111" />
<text x="96" y="228.2" font-size="10" fill="#1a1a1a" stroke="#1a1a1a" stroke-width="0.2" text-anchor="start">t<tspan font-size="6.60" dy="3.80">1</tspan><tspan dy="-3.80"></tspan></text>
<line x1="167.8" y1="246.5" x2="167.8" y2="255.6" stroke="#111" stroke-width="1.0" />
<polygon points="166.1,255.0 169.6,255.0 167.8,258.0" fill="#111" />
<text x="165" y="244.8" font-size="10" fill="#1a1a1a" stroke="#1a1a1a" stroke-width="0.2" text-anchor="start">t<tspan font-size="6.60" dy="3.80">2</tspan><tspan dy="-3.80"></tspan></text>
</svg>
</body></html>
